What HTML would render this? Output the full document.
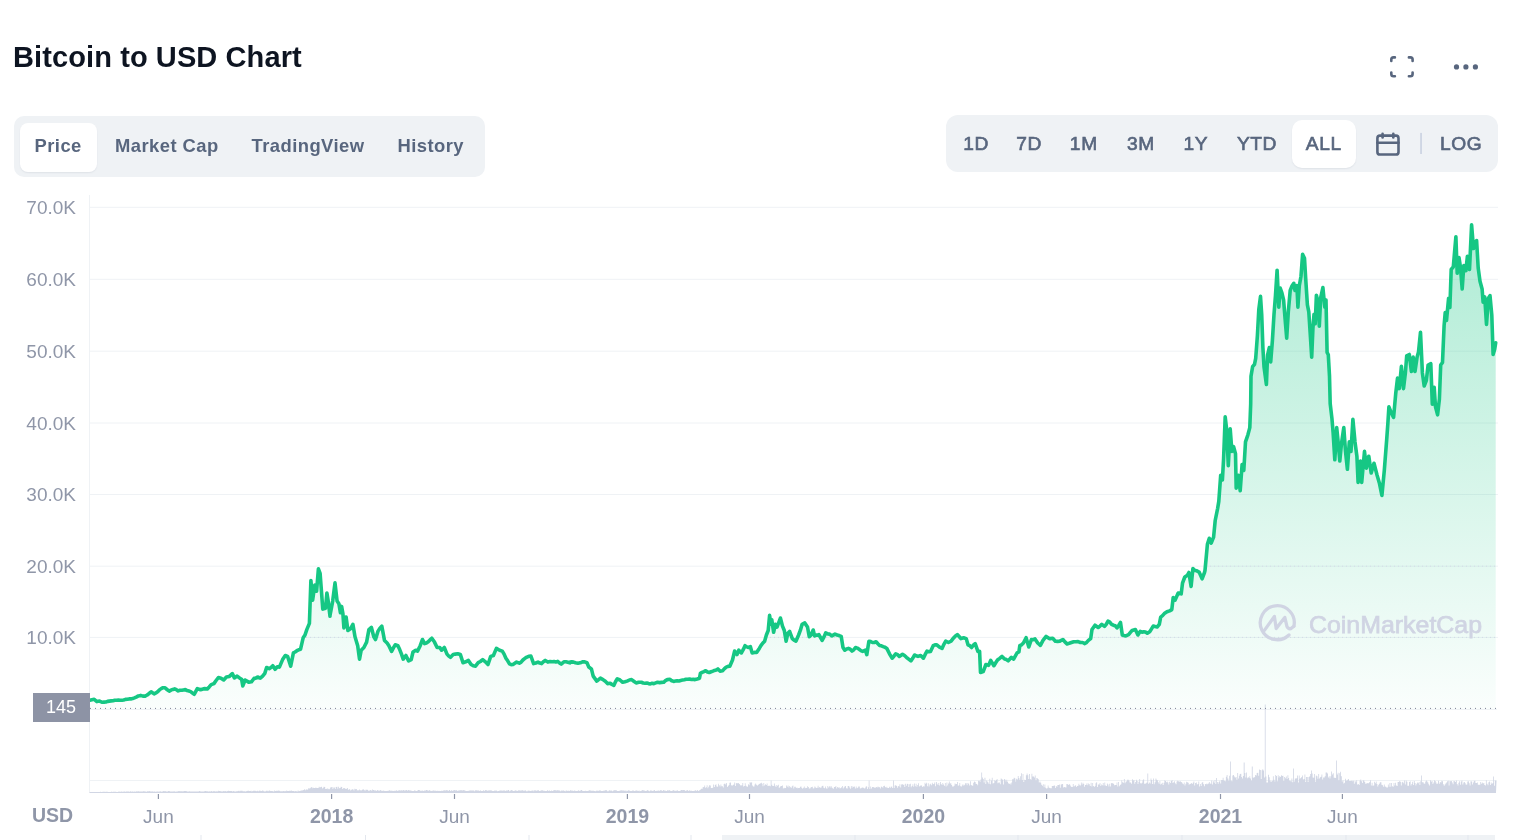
<!DOCTYPE html>
<html lang="en">
<head>
<meta charset="utf-8">
<title>Bitcoin to USD Chart</title>
<style>
  html, body { margin: 0; padding: 0; background: #fff; }
  body { width: 1520px; height: 840px; position: relative; overflow: hidden;
         font-family: "Liberation Sans", Arial, sans-serif; color: #58667e; }
  .abs { position: absolute; }
  h2 { position: absolute; left: 13px; top: 42.5px; margin: 0; font-size: 29px; line-height: 29px;
       font-weight: 700; color: #0d1421; letter-spacing: 0.1px; white-space: nowrap; }
  .grp { position: absolute; background: #eff2f5; }
  .pill { position: absolute; background: #fff; box-shadow: 0 1px 1.5px rgba(88,102,126,0.10); }
  .tab { position: absolute; font-weight: 700; font-size: 18.4px; letter-spacing: 0.45px; line-height: 20px; color: #58667e; white-space: nowrap; }
  .rt  { position: absolute; font-weight: 400; font-size: 19.2px; line-height: 20px; color: #58667e; -webkit-text-stroke: 0.65px #58667e; letter-spacing: 0.6px; white-space: nowrap; transform: translateX(-50%); }
  svg { position: absolute; left: 0; top: 0; }
  .yl text { font-size: 19px; fill: #8f96a8; text-anchor: end; font-family: "Liberation Sans", Arial, sans-serif; }
  .xl text { font-size: 19px; fill: #8f96a8; text-anchor: middle; font-family: "Liberation Sans", Arial, sans-serif; }
  .xl text.b { font-weight: 700; font-size: 19.5px; }
</style>
</head>
<body>
  <h2>Bitcoin to USD Chart</h2>

  <!-- top-right icons -->
  <svg width="1520" height="100" viewBox="0 0 1520 100" style="top:0;left:0">
    <g fill="none" stroke="#58667e" stroke-width="2.6" stroke-linecap="round" stroke-linejoin="round">
      <path d="M1391.3,61 V59.6 Q1391.3,57.4 1393.5,57.4 H1394.9"/>
      <path d="M1408.9,57.4 H1410.4 Q1412.6,57.4 1412.6,59.6 V61"/>
      <path d="M1391.3,72.6 V74 Q1391.3,76.2 1393.5,76.2 H1394.9"/>
      <path d="M1408.9,76.2 H1410.4 Q1412.6,76.2 1412.6,74 V72.6"/>
    </g>
    <g fill="#58667e">
      <circle cx="1456.5" cy="66.9" r="2.6"/>
      <circle cx="1465.9" cy="66.9" r="2.6"/>
      <circle cx="1475.4" cy="66.9" r="2.6"/>
    </g>
  </svg>

  <!-- left tab group -->
  <div class="grp" style="left:14px;top:116px;width:471px;height:61px;border-radius:10px;"></div>
  <div class="pill" style="left:20px;top:123px;width:77px;height:49px;border-radius:8px;"></div>
  <div class="tab" style="left:34.5px;top:136.2px;">Price</div>
  <div class="tab" style="left:115px;top:136.2px;">Market Cap</div>
  <div class="tab" style="left:251.5px;top:136.2px;">TradingView</div>
  <div class="tab" style="left:397.5px;top:136.2px;">History</div>

  <!-- right range group -->
  <div class="grp" style="left:946px;top:115px;width:552px;height:57px;border-radius:12px;"></div>
  <div class="pill" style="left:1292px;top:120px;width:64px;height:48px;border-radius:10px;"></div>
  <div class="rt" style="left:976.2px;top:134.2px;">1D</div>
  <div class="rt" style="left:1029.1px;top:134.2px;">7D</div>
  <div class="rt" style="left:1083.8px;top:134.2px;">1M</div>
  <div class="rt" style="left:1141px;top:134.2px;">3M</div>
  <div class="rt" style="left:1195.9px;top:134.2px;">1Y</div>
  <div class="rt" style="left:1257px;top:134.2px;">YTD</div>
  <div class="rt" style="left:1323.8px;top:134.2px;">ALL</div>
  <div class="rt" style="left:1461.2px;top:134.2px;">LOG</div>
  <svg width="1520" height="200" viewBox="0 0 1520 200" style="top:0;left:0">
    <g fill="none" stroke="#58667e" stroke-width="2.6" stroke-linecap="round" stroke-linejoin="round">
      <rect x="1377.4" y="135.6" width="21.1" height="18.9" rx="2.6"/>
      <line x1="1377.4" y1="142.7" x2="1398.5" y2="142.7"/>
      <line x1="1382.6" y1="133.7" x2="1382.6" y2="137.4"/>
      <line x1="1393.3" y1="133.7" x2="1393.3" y2="137.4"/>
    </g>
    <rect x="1420.1" y="132.9" width="1.9" height="21.1" fill="#cfd6e4"/>
  </svg>

  <!-- chart -->
  <svg width="1520" height="840" viewBox="0 0 1520 840">
    <defs>
      <linearGradient id="gf" x1="0" y1="207" x2="0" y2="709" gradientUnits="userSpaceOnUse">
        <stop offset="0" stop-color="#16c784" stop-opacity="0.36"/>
        <stop offset="1" stop-color="#16c784" stop-opacity="0.02"/>
      </linearGradient>
    </defs>
    <g stroke="#eff2f5" stroke-width="1"><line x1="90" x2="1498" y1="207.3" y2="207.3"/><line x1="90" x2="1498" y1="279.3" y2="279.3"/><line x1="90" x2="1498" y1="351.2" y2="351.2"/><line x1="90" x2="1498" y1="423" y2="423"/><line x1="90" x2="1498" y1="494.5" y2="494.5"/><line x1="90" x2="1498" y1="566.2" y2="566.2"/><line x1="90" x2="1498" y1="637.4" y2="637.4"/></g>
    <line x1="89.5" x2="89.5" y1="195" y2="792" stroke="#eff2f5" stroke-width="1"/>
    <line x1="90" x2="1497" y1="780.5" y2="780.5" stroke="#eff2f5" stroke-width="1"/>
    <line x1="90" x2="1497" y1="709.5" y2="709.5" stroke="#eff2f5" stroke-width="1"/>
    <path d="M89.5,792.5 L89.5,792 L90.3,792 L90.3,792.1 L91.1,792.1 L91.1,791.9 L91.9,791.9 L91.9,792.1 L92.7,792.1 L92.7,791.9 L93.6,791.9 L93.6,792 L94.4,792 L94.4,792.1 L95.2,792.1 L95.2,791.9 L96,791.9 L96,792.1 L96.8,792.1 L96.8,791.9 L97.6,791.9 L97.6,792.1 L98.4,792.1 L98.4,792 L99.2,792 L99.2,791.9 L100,791.9 L100,791.8 L100.8,791.8 L100.8,792 L101.7,792 L101.7,792 L102.5,792 L102.5,791.8 L103.3,791.8 L103.3,791.7 L104.1,791.7 L104.1,791.8 L104.9,791.8 L104.9,791.9 L105.7,791.9 L105.7,791.6 L106.5,791.6 L106.5,792 L107.3,792 L107.3,791.7 L108.1,791.7 L108.1,791.9 L108.9,791.9 L108.9,791.9 L109.8,791.9 L109.8,791.9 L110.6,791.9 L110.6,791.9 L111.4,791.9 L111.4,791.6 L112.2,791.6 L112.2,791.9 L113,791.9 L113,791.7 L113.8,791.7 L113.8,791.7 L114.6,791.7 L114.6,791.8 L115.4,791.8 L115.4,791.7 L116.2,791.7 L116.2,791.9 L117,791.9 L117,791.9 L117.9,791.9 L117.9,791.8 L118.7,791.8 L118.7,791.6 L119.5,791.6 L119.5,791.7 L120.3,791.7 L120.3,791.8 L121.1,791.8 L121.1,791.6 L121.9,791.6 L121.9,791.7 L122.7,791.7 L122.7,791.7 L123.5,791.7 L123.5,791.5 L124.3,791.5 L124.3,791.5 L125.1,791.5 L125.1,791.7 L126,791.7 L126,791.6 L126.8,791.6 L126.8,791.6 L127.6,791.6 L127.6,791.4 L128.4,791.4 L128.4,791.4 L129.2,791.4 L129.2,791.7 L130,791.7 L130,791.3 L130.8,791.3 L130.8,791.8 L131.6,791.8 L131.6,791.6 L132.4,791.6 L132.4,791.4 L133.2,791.4 L133.2,791.7 L134.1,791.7 L134.1,791.5 L134.9,791.5 L134.9,791.8 L135.7,791.8 L135.7,791.4 L136.5,791.4 L136.5,791.3 L137.3,791.3 L137.3,791.4 L138.1,791.4 L138.1,791.3 L138.9,791.3 L138.9,791.6 L139.7,791.6 L139.7,791.4 L140.5,791.4 L140.5,791.4 L141.3,791.4 L141.3,791.4 L142.2,791.4 L142.2,791.5 L143,791.5 L143,791.3 L143.8,791.3 L143.8,791.2 L144.6,791.2 L144.6,791.5 L145.4,791.5 L145.4,791.4 L146.2,791.4 L146.2,791.7 L147,791.7 L147,791.3 L147.8,791.3 L147.8,791.4 L148.6,791.4 L148.6,791.1 L149.4,791.1 L149.4,791.2 L150.3,791.2 L150.3,791.6 L151.1,791.6 L151.1,791.5 L151.9,791.5 L151.9,791.3 L152.7,791.3 L152.7,791.7 L153.5,791.7 L153.5,791.5 L154.3,791.5 L154.3,791.6 L155.1,791.6 L155.1,791.7 L155.9,791.7 L155.9,791.7 L156.7,791.7 L156.7,791.2 L157.5,791.2 L157.5,791.7 L158.4,791.7 L158.4,791.6 L159.2,791.6 L159.2,791.5 L160,791.5 L160,791.2 L160.8,791.2 L160.8,791.7 L161.6,791.7 L161.6,791.4 L162.4,791.4 L162.4,791.4 L163.2,791.4 L163.2,791.1 L164,791.1 L164,791.2 L164.8,791.2 L164.8,791.1 L165.6,791.1 L165.6,791.5 L166.5,791.5 L166.5,791.4 L167.3,791.4 L167.3,791.5 L168.1,791.5 L168.1,791.1 L168.9,791.1 L168.9,791.1 L169.7,791.1 L169.7,791.6 L170.5,791.6 L170.5,791.6 L171.3,791.6 L171.3,791.6 L172.1,791.6 L172.1,791.5 L172.9,791.5 L172.9,791.4 L173.7,791.4 L173.7,791.3 L174.6,791.3 L174.6,791.5 L175.4,791.5 L175.4,791.7 L176.2,791.7 L176.2,791.4 L177,791.4 L177,791.4 L177.8,791.4 L177.8,791.3 L178.6,791.3 L178.6,791 L179.4,791 L179.4,791.2 L180.2,791.2 L180.2,791.3 L181,791.3 L181,791.3 L181.8,791.3 L181.8,791.2 L182.7,791.2 L182.7,791.6 L183.5,791.6 L183.5,791 L184.3,791 L184.3,791.1 L185.1,791.1 L185.1,791.1 L185.9,791.1 L185.9,791.1 L186.7,791.1 L186.7,791.4 L187.5,791.4 L187.5,791.4 L188.3,791.4 L188.3,791.6 L189.1,791.6 L189.1,791.2 L189.9,791.2 L189.9,791.6 L190.8,791.6 L190.8,791.6 L191.6,791.6 L191.6,791.5 L192.4,791.5 L192.4,791.5 L193.2,791.5 L193.2,791.4 L194,791.4 L194,791.6 L194.8,791.6 L194.8,791.6 L195.6,791.6 L195.6,791.5 L196.4,791.5 L196.4,791.6 L197.2,791.6 L197.2,791.4 L198,791.4 L198,791.6 L198.9,791.6 L198.9,791 L199.7,791 L199.7,791.2 L200.5,791.2 L200.5,791.5 L201.3,791.5 L201.3,791.4 L202.1,791.4 L202.1,791.4 L202.9,791.4 L202.9,791.4 L203.7,791.4 L203.7,791.5 L204.5,791.5 L204.5,791 L205.3,791 L205.3,790.9 L206.1,790.9 L206.1,791.3 L207,791.3 L207,791.3 L207.8,791.3 L207.8,791.5 L208.6,791.5 L208.6,791.5 L209.4,791.5 L209.4,791.3 L210.2,791.3 L210.2,791.4 L211,791.4 L211,791 L211.8,791 L211.8,791.5 L212.6,791.5 L212.6,791.6 L213.4,791.6 L213.4,790.9 L214.2,790.9 L214.2,791.2 L215.1,791.2 L215.1,791.5 L215.9,791.5 L215.9,791.2 L216.7,791.2 L216.7,791.6 L217.5,791.6 L217.5,791.2 L218.3,791.2 L218.3,790.8 L219.1,790.8 L219.1,790.9 L219.9,790.9 L219.9,791 L220.7,791 L220.7,791.4 L221.5,791.4 L221.5,791.3 L222.3,791.3 L222.3,791.4 L223.2,791.4 L223.2,791 L224,791 L224,791.2 L224.8,791.2 L224.8,791 L225.6,791 L225.6,791.3 L226.4,791.3 L226.4,791.4 L227.2,791.4 L227.2,790.9 L228,790.9 L228,790.8 L228.8,790.8 L228.8,790.9 L229.6,790.9 L229.6,790.9 L230.4,790.9 L230.4,790.9 L231.3,790.9 L231.3,791 L232.1,791 L232.1,791.4 L232.9,791.4 L232.9,791.1 L233.7,791.1 L233.7,791.3 L234.5,791.3 L234.5,791.5 L235.3,791.5 L235.3,791.5 L236.1,791.5 L236.1,791.3 L236.9,791.3 L236.9,791.3 L237.7,791.3 L237.7,791 L238.5,791 L238.5,790.7 L239.4,790.7 L239.4,791.2 L240.2,791.2 L240.2,790.8 L241,790.8 L241,790.7 L241.8,790.7 L241.8,790.7 L242.6,790.7 L242.6,791.2 L243.4,791.2 L243.4,791.3 L244.2,791.3 L244.2,791.3 L245,791.3 L245,791.4 L245.8,791.4 L245.8,791.3 L246.6,791.3 L246.6,791 L247.5,791 L247.5,790.8 L248.3,790.8 L248.3,790.8 L249.1,790.8 L249.1,791.1 L249.9,791.1 L249.9,791 L250.7,791 L250.7,790.8 L251.5,790.8 L251.5,791.4 L252.3,791.4 L252.3,790.9 L253.1,790.9 L253.1,790.7 L253.9,790.7 L253.9,790.8 L254.7,790.8 L254.7,790.8 L255.6,790.8 L255.6,791.1 L256.4,791.1 L256.4,791.3 L257.2,791.3 L257.2,790.8 L258,790.8 L258,791.2 L258.8,791.2 L258.8,790.8 L259.6,790.8 L259.6,790.6 L260.4,790.6 L260.4,791.1 L261.2,791.1 L261.2,791.1 L262,791.1 L262,790.6 L262.8,790.6 L262.8,790.8 L263.7,790.8 L263.7,791.3 L264.5,791.3 L264.5,791.4 L265.3,791.4 L265.3,791.3 L266.1,791.3 L266.1,790.7 L266.9,790.7 L266.9,790.7 L267.7,790.7 L267.7,791.3 L268.5,791.3 L268.5,790.7 L269.3,790.7 L269.3,790.6 L270.1,790.6 L270.1,790.9 L270.9,790.9 L270.9,791.1 L271.8,791.1 L271.8,791 L272.6,791 L272.6,791.3 L273.4,791.3 L273.4,791.4 L274.2,791.4 L274.2,790.6 L275,790.6 L275,790.9 L275.8,790.9 L275.8,791 L276.6,791 L276.6,790.6 L277.4,790.6 L277.4,791 L278.2,791 L278.2,790.6 L279,790.6 L279,790.7 L279.9,790.7 L279.9,791.2 L280.7,791.2 L280.7,791.2 L281.5,791.2 L281.5,791.2 L282.3,791.2 L282.3,791.2 L283.1,791.2 L283.1,790.9 L283.9,790.9 L283.9,791.2 L284.7,791.2 L284.7,791 L285.5,791 L285.5,791.3 L286.3,791.3 L286.3,790.6 L287.1,790.6 L287.1,791.1 L288,791.1 L288,791 L288.8,791 L288.8,790.9 L289.6,790.9 L289.6,790.6 L290.4,790.6 L290.4,791 L291.2,791 L291.2,790.5 L292,790.5 L292,790.9 L292.8,790.9 L292.8,790.9 L293.6,790.9 L293.6,790.9 L294.4,790.9 L294.4,791.4 L295.2,791.4 L295.2,791 L296.1,791 L296.1,791.2 L296.9,791.2 L296.9,791.4 L297.7,791.4 L297.7,790.6 L298.5,790.6 L298.5,791.2 L299.3,791.2 L299.3,790.9 L300.1,790.9 L300.1,790.7 L300.9,790.7 L300.9,790.6 L301.7,790.6 L301.7,790.6 L302.5,790.6 L302.5,790.2 L303.3,790.2 L303.3,789.9 L304.2,789.9 L304.2,789.3 L305,789.3 L305,790.2 L305.8,790.2 L305.8,789.2 L306.6,789.2 L306.6,789.7 L307.4,789.7 L307.4,789.5 L308.2,789.5 L308.2,788.2 L309,788.2 L309,788.6 L309.8,788.6 L309.8,788.3 L310.6,788.3 L310.6,787.6 L311.4,787.6 L311.4,787 L312.3,787 L312.3,788.2 L313.1,788.2 L313.1,787.7 L313.9,787.7 L313.9,788 L314.7,788 L314.7,788 L315.5,788 L315.5,787.5 L316.3,787.5 L316.3,788.1 L317.1,788.1 L317.1,787.9 L317.9,787.9 L317.9,788.1 L318.7,788.1 L318.7,786.8 L319.5,786.8 L319.5,787.5 L320.4,787.5 L320.4,787 L321.2,787 L321.2,786.8 L322,786.8 L322,788.6 L322.8,788.6 L322.8,787.8 L323.6,787.8 L323.6,786.8 L324.4,786.8 L324.4,787.1 L325.2,787.1 L325.2,789 L326,789 L326,789 L326.8,789 L326.8,788.2 L327.6,788.2 L327.6,789.2 L328.5,789.2 L328.5,788.7 L329.3,788.7 L329.3,789.2 L330.1,789.2 L330.1,787.5 L330.9,787.5 L330.9,787.2 L331.7,787.2 L331.7,786.9 L332.5,786.9 L332.5,788.9 L333.3,788.9 L333.3,787.4 L334.1,787.4 L334.1,787.6 L334.9,787.6 L334.9,789 L335.7,789 L335.7,787 L336.6,787 L336.6,786.7 L337.4,786.7 L337.4,788.8 L338.2,788.8 L338.2,786.8 L339,786.8 L339,788.3 L339.8,788.3 L339.8,788 L340.6,788 L340.6,786.7 L341.4,786.7 L341.4,787.1 L342.2,787.1 L342.2,788.9 L343,788.9 L343,788.2 L343.8,788.2 L343.8,788 L344.7,788 L344.7,788.4 L345.5,788.4 L345.5,788.9 L346.3,788.9 L346.3,788.8 L347.1,788.8 L347.1,788.1 L347.9,788.1 L347.9,789.9 L348.7,789.9 L348.7,789 L349.5,789 L349.5,789.5 L350.3,789.5 L350.3,790.4 L351.1,790.4 L351.1,789.8 L351.9,789.8 L351.9,789.3 L352.8,789.3 L352.8,789.6 L353.6,789.6 L353.6,790.4 L354.4,790.4 L354.4,788.8 L355.2,788.8 L355.2,789.2 L356,789.2 L356,788.9 L356.8,788.9 L356.8,790.4 L357.6,790.4 L357.6,790.1 L358.4,790.1 L358.4,790.5 L359.2,790.5 L359.2,789.4 L360,789.4 L360,790.2 L360.9,790.2 L360.9,790.4 L361.7,790.4 L361.7,790 L362.5,790 L362.5,789.3 L363.3,789.3 L363.3,789.5 L364.1,789.5 L364.1,790.3 L364.9,790.3 L364.9,790.5 L365.7,790.5 L365.7,789.4 L366.5,789.4 L366.5,789.9 L367.3,789.9 L367.3,789.8 L368.1,789.8 L368.1,790.7 L369,790.7 L369,790.8 L369.8,790.8 L369.8,789.9 L370.6,789.9 L370.6,790.3 L371.4,790.3 L371.4,790.8 L372.2,790.8 L372.2,789.6 L373,789.6 L373,790.1 L373.8,790.1 L373.8,789.9 L374.6,789.9 L374.6,790.9 L375.4,790.9 L375.4,789.9 L376.2,789.9 L376.2,790.9 L377.1,790.9 L377.1,789.9 L377.9,789.9 L377.9,790.5 L378.7,790.5 L378.7,790.7 L379.5,790.7 L379.5,790.4 L380.3,790.4 L380.3,790 L381.1,790 L381.1,790.8 L381.9,790.8 L381.9,790.9 L382.7,790.9 L382.7,790.5 L383.5,790.5 L383.5,790.8 L384.3,790.8 L384.3,791 L385.2,791 L385.2,790.9 L386,790.9 L386,791 L386.8,791 L386.8,790.9 L387.6,790.9 L387.6,790.7 L388.4,790.7 L388.4,790.7 L389.2,790.7 L389.2,790.2 L390,790.2 L390,790.8 L390.8,790.8 L390.8,790.5 L391.6,790.5 L391.6,790.9 L392.4,790.9 L392.4,790.7 L393.3,790.7 L393.3,791.1 L394.1,791.1 L394.1,790.8 L394.9,790.8 L394.9,791.1 L395.7,791.1 L395.7,790.2 L396.5,790.2 L396.5,790.5 L397.3,790.5 L397.3,790.9 L398.1,790.9 L398.1,790.5 L398.9,790.5 L398.9,790 L399.7,790 L399.7,791 L400.5,791 L400.5,790.1 L401.4,790.1 L401.4,790.6 L402.2,790.6 L402.2,790.5 L403,790.5 L403,790.1 L403.8,790.1 L403.8,790.6 L404.6,790.6 L404.6,790.5 L405.4,790.5 L405.4,790.3 L406.2,790.3 L406.2,789.9 L407,789.9 L407,790.7 L407.8,790.7 L407.8,790.1 L408.6,790.1 L408.6,790.3 L409.5,790.3 L409.5,790.4 L410.3,790.4 L410.3,790.6 L411.1,790.6 L411.1,790.7 L411.9,790.7 L411.9,791.1 L412.7,791.1 L412.7,791 L413.5,791 L413.5,791 L414.3,791 L414.3,790.2 L415.1,790.2 L415.1,790.8 L415.9,790.8 L415.9,790.9 L416.7,790.9 L416.7,791 L417.6,791 L417.6,790.1 L418.4,790.1 L418.4,790.1 L419.2,790.1 L419.2,790.3 L420,790.3 L420,790.8 L420.8,790.8 L420.8,790.8 L421.6,790.8 L421.6,790.8 L422.4,790.8 L422.4,790.6 L423.2,790.6 L423.2,790.9 L424,790.9 L424,790.6 L424.8,790.6 L424.8,790.8 L425.7,790.8 L425.7,790 L426.5,790 L426.5,790 L427.3,790 L427.3,790.5 L428.1,790.5 L428.1,790.8 L428.9,790.8 L428.9,790 L429.7,790 L429.7,790.8 L430.5,790.8 L430.5,790.7 L431.3,790.7 L431.3,791.1 L432.1,791.1 L432.1,790.7 L432.9,790.7 L432.9,790.6 L433.8,790.6 L433.8,790.5 L434.6,790.5 L434.6,790.9 L435.4,790.9 L435.4,790.5 L436.2,790.5 L436.2,791.1 L437,791.1 L437,790.8 L437.8,790.8 L437.8,791 L438.6,791 L438.6,790.7 L439.4,790.7 L439.4,791.1 L440.2,791.1 L440.2,791.1 L441,791.1 L441,790.8 L441.9,790.8 L441.9,790.9 L442.7,790.9 L442.7,790.5 L443.5,790.5 L443.5,790.5 L444.3,790.5 L444.3,790.3 L445.1,790.3 L445.1,790.4 L445.9,790.4 L445.9,790.3 L446.7,790.3 L446.7,790.1 L447.5,790.1 L447.5,790.7 L448.3,790.7 L448.3,790.8 L449.1,790.8 L449.1,790 L450,790 L450,791 L450.8,791 L450.8,790.3 L451.6,790.3 L451.6,790.4 L452.4,790.4 L452.4,791.1 L453.2,791.1 L453.2,790.2 L454,790.2 L454,790.1 L454.8,790.1 L454.8,790.4 L455.6,790.4 L455.6,790.3 L456.4,790.3 L456.4,790.2 L457.2,790.2 L457.2,791 L458.1,791 L458.1,790.5 L458.9,790.5 L458.9,790.6 L459.7,790.6 L459.7,790.2 L460.5,790.2 L460.5,790.2 L461.3,790.2 L461.3,790.2 L462.1,790.2 L462.1,790.5 L462.9,790.5 L462.9,790.1 L463.7,790.1 L463.7,790.4 L464.5,790.4 L464.5,790.3 L465.3,790.3 L465.3,790.9 L466.2,790.9 L466.2,791.1 L467,791.1 L467,791 L467.8,791 L467.8,790.7 L468.6,790.7 L468.6,791 L469.4,791 L469.4,790.2 L470.2,790.2 L470.2,790.5 L471,790.5 L471,790.4 L471.8,790.4 L471.8,790.4 L472.6,790.4 L472.6,790.4 L473.4,790.4 L473.4,790.6 L474.3,790.6 L474.3,791.2 L475.1,791.2 L475.1,790.2 L475.9,790.2 L475.9,790.3 L476.7,790.3 L476.7,790.6 L477.5,790.6 L477.5,790.5 L478.3,790.5 L478.3,790.4 L479.1,790.4 L479.1,791.1 L479.9,791.1 L479.9,790.3 L480.7,790.3 L480.7,790.9 L481.5,790.9 L481.5,791.1 L482.4,791.1 L482.4,790.9 L483.2,790.9 L483.2,790.3 L484,790.3 L484,790.9 L484.8,790.9 L484.8,790.3 L485.6,790.3 L485.6,790 L486.4,790 L486.4,790.6 L487.2,790.6 L487.2,790.7 L488,790.7 L488,790.6 L488.8,790.6 L488.8,790.4 L489.6,790.4 L489.6,790.3 L490.5,790.3 L490.5,790.5 L491.3,790.5 L491.3,790.4 L492.1,790.4 L492.1,791.1 L492.9,791.1 L492.9,791 L493.7,791 L493.7,790.9 L494.5,790.9 L494.5,790.3 L495.3,790.3 L495.3,790.8 L496.1,790.8 L496.1,790.5 L496.9,790.5 L496.9,791.2 L497.7,791.2 L497.7,791.1 L498.6,791.1 L498.6,790.9 L499.4,790.9 L499.4,790.4 L500.2,790.4 L500.2,790.4 L501,790.4 L501,790.4 L501.8,790.4 L501.8,790.8 L502.6,790.8 L502.6,790.6 L503.4,790.6 L503.4,790.6 L504.2,790.6 L504.2,790.6 L505,790.6 L505,791 L505.8,791 L505.8,790.2 L506.7,790.2 L506.7,790.9 L507.5,790.9 L507.5,790.1 L508.3,790.1 L508.3,790.1 L509.1,790.1 L509.1,791.2 L509.9,791.2 L509.9,790.7 L510.7,790.7 L510.7,790.2 L511.5,790.2 L511.5,790.1 L512.3,790.1 L512.3,790.7 L513.1,790.7 L513.1,790.9 L513.9,790.9 L513.9,790.9 L514.8,790.9 L514.8,790.1 L515.6,790.1 L515.6,790.9 L516.4,790.9 L516.4,790.5 L517.2,790.5 L517.2,791 L518,791 L518,790.6 L518.8,790.6 L518.8,790.1 L519.6,790.1 L519.6,791 L520.4,791 L520.4,790.3 L521.2,790.3 L521.2,790.6 L522,790.6 L522,790.2 L522.9,790.2 L522.9,790.4 L523.7,790.4 L523.7,790.9 L524.5,790.9 L524.5,790.2 L525.3,790.2 L525.3,790.6 L526.1,790.6 L526.1,791.2 L526.9,791.2 L526.9,791.2 L527.7,791.2 L527.7,790.6 L528.5,790.6 L528.5,790.7 L529.3,790.7 L529.3,790.8 L530.1,790.8 L530.1,791 L530.9,791 L530.9,790.8 L531.8,790.8 L531.8,790.8 L532.6,790.8 L532.6,790.2 L533.4,790.2 L533.4,791.2 L534.2,791.2 L534.2,790.3 L535,790.3 L535,790.2 L535.8,790.2 L535.8,791.1 L536.6,791.1 L536.6,790.2 L537.4,790.2 L537.4,790.4 L538.2,790.4 L538.2,790.2 L539,790.2 L539,790.9 L539.9,790.9 L539.9,790.8 L540.7,790.8 L540.7,790.8 L541.5,790.8 L541.5,790.1 L542.3,790.1 L542.3,790.5 L543.1,790.5 L543.1,790.8 L543.9,790.8 L543.9,790.7 L544.7,790.7 L544.7,790.9 L545.5,790.9 L545.5,791.1 L546.3,791.1 L546.3,791.1 L547.1,791.1 L547.1,790.3 L548,790.3 L548,790.9 L548.8,790.9 L548.8,790.2 L549.6,790.2 L549.6,790.9 L550.4,790.9 L550.4,790.9 L551.2,790.9 L551.2,790.6 L552,790.6 L552,791 L552.8,791 L552.8,790.8 L553.6,790.8 L553.6,790.1 L554.4,790.1 L554.4,790.2 L555.2,790.2 L555.2,790.3 L556.1,790.3 L556.1,790.5 L556.9,790.5 L556.9,790.2 L557.7,790.2 L557.7,790.2 L558.5,790.2 L558.5,790.6 L559.3,790.6 L559.3,790.4 L560.1,790.4 L560.1,791.2 L560.9,791.2 L560.9,790.4 L561.7,790.4 L561.7,790.7 L562.5,790.7 L562.5,790.4 L563.3,790.4 L563.3,790.5 L564.2,790.5 L564.2,790.9 L565,790.9 L565,791.2 L565.8,791.2 L565.8,790.2 L566.6,790.2 L566.6,791.1 L567.4,791.1 L567.4,790.7 L568.2,790.7 L568.2,790.8 L569,790.8 L569,790.9 L569.8,790.9 L569.8,790.4 L570.6,790.4 L570.6,790.1 L571.4,790.1 L571.4,790.9 L572.3,790.9 L572.3,790.5 L573.1,790.5 L573.1,790.9 L573.9,790.9 L573.9,790.6 L574.7,790.6 L574.7,790.8 L575.5,790.8 L575.5,791 L576.3,791 L576.3,791 L577.1,791 L577.1,791 L577.9,791 L577.9,790.2 L578.7,790.2 L578.7,790.7 L579.5,790.7 L579.5,791 L580.4,791 L580.4,790.2 L581.2,790.2 L581.2,790.1 L582,790.1 L582,790.7 L582.8,790.7 L582.8,791.1 L583.6,791.1 L583.6,791 L584.4,791 L584.4,791.1 L585.2,791.1 L585.2,790.8 L586,790.8 L586,791.1 L586.8,791.1 L586.8,791 L587.6,791 L587.6,790.9 L588.5,790.9 L588.5,790.6 L589.3,790.6 L589.3,790.3 L590.1,790.3 L590.1,790.4 L590.9,790.4 L590.9,790.8 L591.7,790.8 L591.7,790.8 L592.5,790.8 L592.5,790.7 L593.3,790.7 L593.3,790.8 L594.1,790.8 L594.1,790.9 L594.9,790.9 L594.9,791.2 L595.7,791.2 L595.7,790.9 L596.6,790.9 L596.6,790.2 L597.4,790.2 L597.4,791.1 L598.2,791.1 L598.2,790.7 L599,790.7 L599,790.5 L599.8,790.5 L599.8,790.3 L600.6,790.3 L600.6,791 L601.4,791 L601.4,790.9 L602.2,790.9 L602.2,791 L603,791 L603,790.8 L603.8,790.8 L603.8,790.7 L604.7,790.7 L604.7,790.2 L605.5,790.2 L605.5,790.3 L606.3,790.3 L606.3,790.3 L607.1,790.3 L607.1,791.2 L607.9,791.2 L607.9,791.2 L608.7,791.2 L608.7,790.5 L609.5,790.5 L609.5,790.3 L610.3,790.3 L610.3,790.7 L611.1,790.7 L611.1,790.6 L611.9,790.6 L611.9,791.2 L612.8,791.2 L612.8,790.8 L613.6,790.8 L613.6,790.2 L614.4,790.2 L614.4,790.3 L615.2,790.3 L615.2,790.3 L616,790.3 L616,790.2 L616.8,790.2 L616.8,791 L617.6,791 L617.6,791.1 L618.4,791.1 L618.4,791.1 L619.2,791.1 L619.2,790.7 L620,790.7 L620,790.5 L620.9,790.5 L620.9,790.2 L621.7,790.2 L621.7,790.5 L622.5,790.5 L622.5,790.5 L623.3,790.5 L623.3,790.4 L624.1,790.4 L624.1,790.7 L624.9,790.7 L624.9,790.6 L625.7,790.6 L625.7,791.2 L626.5,791.2 L626.5,790.4 L627.3,790.4 L627.3,791 L628.1,791 L628.1,790.2 L629,790.2 L629,790.5 L629.8,790.5 L629.8,790.9 L630.6,790.9 L630.6,791.1 L631.4,791.1 L631.4,790.9 L632.2,790.9 L632.2,790.5 L633,790.5 L633,790.4 L633.8,790.4 L633.8,791.1 L634.6,791.1 L634.6,791.1 L635.4,791.1 L635.4,790.6 L636.2,790.6 L636.2,790.6 L637.1,790.6 L637.1,790.8 L637.9,790.8 L637.9,791 L638.7,791 L638.7,790.5 L639.5,790.5 L639.5,791.2 L640.3,791.2 L640.3,790.9 L641.1,790.9 L641.1,790.7 L641.9,790.7 L641.9,790.1 L642.7,790.1 L642.7,790.5 L643.5,790.5 L643.5,790.2 L644.3,790.2 L644.3,790.7 L645.2,790.7 L645.2,790.9 L646,790.9 L646,790.9 L646.8,790.9 L646.8,790.1 L647.6,790.1 L647.6,790.4 L648.4,790.4 L648.4,790.8 L649.2,790.8 L649.2,791.2 L650,791.2 L650,790.6 L650.8,790.6 L650.8,790.4 L651.6,790.4 L651.6,790.7 L652.4,790.7 L652.4,790.9 L653.3,790.9 L653.3,790.4 L654.1,790.4 L654.1,790.1 L654.9,790.1 L654.9,790.9 L655.7,790.9 L655.7,791.1 L656.5,791.1 L656.5,790.8 L657.3,790.8 L657.3,790.7 L658.1,790.7 L658.1,790.4 L658.9,790.4 L658.9,790.9 L659.7,790.9 L659.7,790.3 L660.5,790.3 L660.5,790.3 L661.4,790.3 L661.4,790.6 L662.2,790.6 L662.2,790.9 L663,790.9 L663,790.1 L663.8,790.1 L663.8,790.8 L664.6,790.8 L664.6,790.2 L665.4,790.2 L665.4,790.9 L666.2,790.9 L666.2,790.9 L667,790.9 L667,790.3 L667.8,790.3 L667.8,790.8 L668.6,790.8 L668.6,790.1 L669.5,790.1 L669.5,790.6 L670.3,790.6 L670.3,790.9 L671.1,790.9 L671.1,790.9 L671.9,790.9 L671.9,790.7 L672.7,790.7 L672.7,790.4 L673.5,790.4 L673.5,790 L674.3,790 L674.3,791 L675.1,791 L675.1,790.7 L675.9,790.7 L675.9,790.9 L676.7,790.9 L676.7,790 L677.6,790 L677.6,791 L678.4,791 L678.4,791.1 L679.2,791.1 L679.2,791.1 L680,791.1 L680,790.7 L680.8,790.7 L680.8,790.1 L681.6,790.1 L681.6,790.1 L682.4,790.1 L682.4,790.3 L683.2,790.3 L683.2,790 L684,790 L684,790 L684.8,790 L684.8,790.7 L685.7,790.7 L685.7,790.9 L686.5,790.9 L686.5,790 L687.3,790 L687.3,790.2 L688.1,790.2 L688.1,791.1 L688.9,791.1 L688.9,790.3 L689.7,790.3 L689.7,790.7 L690.5,790.7 L690.5,790.7 L691.3,790.7 L691.3,790.7 L692.1,790.7 L692.1,790.9 L692.9,790.9 L692.9,791.1 L693.8,791.1 L693.8,790.8 L694.6,790.8 L694.6,790.7 L695.4,790.7 L695.4,790 L696.2,790 L696.2,791 L697,791 L697,790 L697.8,790 L697.8,790.9 L698.6,790.9 L698.6,790.7 L699.4,790.7 L699.4,790.1 L700.2,790.1 L700.2,789.6 L701,789.6 L701,788.8 L701.9,788.8 L701.9,788.7 L702.7,788.7 L702.7,787 L703.5,787 L703.5,787.3 L704.3,787.3 L704.3,785.4 L705.1,785.4 L705.1,787.8 L705.9,787.8 L705.9,787.2 L706.7,787.2 L706.7,785.2 L707.5,785.2 L707.5,788.2 L708.3,788.2 L708.3,786.8 L709.1,786.8 L709.1,785.3 L710,785.3 L710,785.4 L710.8,785.4 L710.8,788 L711.6,788 L711.6,788 L712.4,788 L712.4,787.8 L713.2,787.8 L713.2,784.5 L714,784.5 L714,787 L714.8,787 L714.8,785 L715.6,785 L715.6,784.3 L716.4,784.3 L716.4,786.5 L717.2,786.5 L717.2,786.7 L718.1,786.7 L718.1,783.8 L718.9,783.8 L718.9,785.2 L719.7,785.2 L719.7,786.6 L720.5,786.6 L720.5,784.6 L721.3,784.6 L721.3,786.2 L722.1,786.2 L722.1,786.3 L722.9,786.3 L722.9,787.5 L723.7,787.5 L723.7,784.1 L724.5,784.1 L724.5,783.4 L725.3,783.4 L725.3,784.5 L726.2,784.5 L726.2,783.1 L727,783.1 L727,787.1 L727.8,787.1 L727.8,786.1 L728.6,786.1 L728.6,785 L729.4,785 L729.4,782.7 L730.2,782.7 L730.2,782.6 L731,782.6 L731,785.2 L731.8,785.2 L731.8,785.8 L732.6,785.8 L732.6,784.9 L733.4,784.9 L733.4,784.5 L734.3,784.5 L734.3,782.4 L735.1,782.4 L735.1,786 L735.9,786 L735.9,783 L736.7,783 L736.7,783.4 L737.5,783.4 L737.5,783 L738.3,783 L738.3,783.2 L739.1,783.2 L739.1,784 L739.9,784 L739.9,785.3 L740.7,785.3 L740.7,785.4 L741.5,785.4 L741.5,785.2 L742.4,785.2 L742.4,783.1 L743.2,783.1 L743.2,786.5 L744,786.5 L744,786 L744.8,786 L744.8,783.3 L745.6,783.3 L745.6,785.7 L746.4,785.7 L746.4,786.6 L747.2,786.6 L747.2,786.7 L748,786.7 L748,784.2 L748.8,784.2 L748.8,785.3 L749.6,785.3 L749.6,782.2 L750.5,782.2 L750.5,782.7 L751.3,782.7 L751.3,782.2 L752.1,782.2 L752.1,785.6 L752.9,785.6 L752.9,786.5 L753.7,786.5 L753.7,786.4 L754.5,786.4 L754.5,784.5 L755.3,784.5 L755.3,783.5 L756.1,783.5 L756.1,784.8 L756.9,784.8 L756.9,785.8 L757.7,785.8 L757.7,784.9 L758.6,784.9 L758.6,783.9 L759.4,783.9 L759.4,783.7 L760.2,783.7 L760.2,783.3 L761,783.3 L761,782.8 L761.8,782.8 L761.8,783.7 L762.6,783.7 L762.6,786.3 L763.4,786.3 L763.4,782.9 L764.2,782.9 L764.2,785.5 L765,785.5 L765,784.2 L765.8,784.2 L765.8,785.1 L766.7,785.1 L766.7,783.4 L767.5,783.4 L767.5,785.9 L768.3,785.9 L768.3,785.7 L769.1,785.7 L769.1,785.7 L769.9,785.7 L769.9,786.3 L770.7,786.3 L770.7,780.5 L771.5,780.5 L771.5,784.7 L772.3,784.7 L772.3,786 L773.1,786 L773.1,785.9 L773.9,785.9 L773.9,783.6 L774.8,783.6 L774.8,785.8 L775.6,785.8 L775.6,787 L776.4,787 L776.4,785 L777.2,785 L777.2,785.8 L778,785.8 L778,784.8 L778.8,784.8 L778.8,788.1 L779.6,788.1 L779.6,787 L780.4,787 L780.4,785.9 L781.2,785.9 L781.2,785.9 L782,785.9 L782,785.6 L782.9,785.6 L782.9,788.5 L783.7,788.5 L783.7,787.7 L784.5,787.7 L784.5,788.3 L785.3,788.3 L785.3,788 L786.1,788 L786.1,785.5 L786.9,785.5 L786.9,786.8 L787.7,786.8 L787.7,785.6 L788.5,785.6 L788.5,787.5 L789.3,787.5 L789.3,785.9 L790.1,785.9 L790.1,787.2 L791,787.2 L791,787.8 L791.8,787.8 L791.8,786.2 L792.6,786.2 L792.6,785.6 L793.4,785.6 L793.4,788.4 L794.2,788.4 L794.2,786.8 L795,786.8 L795,786.7 L795.8,786.7 L795.8,788 L796.6,788 L796.6,787.5 L797.4,787.5 L797.4,788.3 L798.2,788.3 L798.2,788.1 L799.1,788.1 L799.1,787.9 L799.9,787.9 L799.9,786.8 L800.7,786.8 L800.7,786.6 L801.5,786.6 L801.5,788.1 L802.3,788.1 L802.3,788.7 L803.1,788.7 L803.1,787.7 L803.9,787.7 L803.9,786.6 L804.7,786.6 L804.7,788.2 L805.5,788.2 L805.5,787.7 L806.3,787.7 L806.3,788.1 L807.2,788.1 L807.2,786.2 L808,786.2 L808,787 L808.8,787 L808.8,788.6 L809.6,788.6 L809.6,788.4 L810.4,788.4 L810.4,787.5 L811.2,787.5 L811.2,787 L812,787 L812,786.7 L812.8,786.7 L812.8,788.5 L813.6,788.5 L813.6,788.3 L814.4,788.3 L814.4,786.6 L815.3,786.6 L815.3,787.5 L816.1,787.5 L816.1,787.9 L816.9,787.9 L816.9,787.8 L817.7,787.8 L817.7,785.8 L818.5,785.8 L818.5,787.8 L819.3,787.8 L819.3,787 L820.1,787 L820.1,787.7 L820.9,787.7 L820.9,787.5 L821.7,787.5 L821.7,786.1 L822.5,786.1 L822.5,785.7 L823.4,785.7 L823.4,787.7 L824.2,787.7 L824.2,788.2 L825,788.2 L825,786.5 L825.8,786.5 L825.8,788.2 L826.6,788.2 L826.6,788.8 L827.4,788.8 L827.4,786 L828.2,786 L828.2,787.5 L829,787.5 L829,786.3 L829.8,786.3 L829.8,787.6 L830.6,787.6 L830.6,786.1 L831.5,786.1 L831.5,787.4 L832.3,787.4 L832.3,788.3 L833.1,788.3 L833.1,788.8 L833.9,788.8 L833.9,787.1 L834.7,787.1 L834.7,786.9 L835.5,786.9 L835.5,786 L836.3,786 L836.3,788.6 L837.1,788.6 L837.1,786.9 L837.9,786.9 L837.9,787.7 L838.7,787.7 L838.7,787.3 L839.6,787.3 L839.6,788.4 L840.4,788.4 L840.4,788 L841.2,788 L841.2,787.3 L842,787.3 L842,786 L842.8,786 L842.8,788.6 L843.6,788.6 L843.6,787.4 L844.4,787.4 L844.4,786.4 L845.2,786.4 L845.2,785.9 L846,785.9 L846,788.3 L846.8,788.3 L846.8,788.5 L847.7,788.5 L847.7,786 L848.5,786 L848.5,785.9 L849.3,785.9 L849.3,787.4 L850.1,787.4 L850.1,788.8 L850.9,788.8 L850.9,786.1 L851.7,786.1 L851.7,787.7 L852.5,787.7 L852.5,786.2 L853.3,786.2 L853.3,787 L854.1,787 L854.1,786.4 L854.9,786.4 L854.9,788.5 L855.8,788.5 L855.8,786.5 L856.6,786.5 L856.6,788.3 L857.4,788.3 L857.4,787.7 L858.2,787.7 L858.2,786.4 L859,786.4 L859,786.4 L859.8,786.4 L859.8,788.4 L860.6,788.4 L860.6,788.3 L861.4,788.3 L861.4,787.8 L862.2,787.8 L862.2,787.4 L863,787.4 L863,787.8 L863.9,787.8 L863.9,788.6 L864.7,788.6 L864.7,788.2 L865.5,788.2 L865.5,786.8 L866.3,786.8 L866.3,786.3 L867.1,786.3 L867.1,788.9 L867.9,788.9 L867.9,787.3 L868.7,787.3 L868.7,780.5 L869.5,780.5 L869.5,788.9 L870.3,788.9 L870.3,786.5 L871.1,786.5 L871.1,788.6 L872,788.6 L872,787.1 L872.8,787.1 L872.8,787.2 L873.6,787.2 L873.6,786.9 L874.4,786.9 L874.4,787.9 L875.2,787.9 L875.2,787.5 L876,787.5 L876,786.9 L876.8,786.9 L876.8,787.4 L877.6,787.4 L877.6,786.6 L878.4,786.6 L878.4,787.3 L879.2,787.3 L879.2,787.2 L880.1,787.2 L880.1,788.6 L880.9,788.6 L880.9,786.6 L881.7,786.6 L881.7,787 L882.5,787 L882.5,787.8 L883.3,787.8 L883.3,785.9 L884.1,785.9 L884.1,785.8 L884.9,785.8 L884.9,786.9 L885.7,786.9 L885.7,787.8 L886.5,787.8 L886.5,786.8 L887.3,786.8 L887.3,788 L888.2,788 L888.2,787.9 L889,787.9 L889,786.8 L889.8,786.8 L889.8,788 L890.6,788 L890.6,786.7 L891.4,786.7 L891.4,786.4 L892.2,786.4 L892.2,788.1 L893,788.1 L893,780.5 L893.8,780.5 L893.8,787.9 L894.6,787.9 L894.6,785.4 L895.4,785.4 L895.4,785.2 L896.3,785.2 L896.3,786.1 L897.1,786.1 L897.1,787.8 L897.9,787.8 L897.9,786.1 L898.7,786.1 L898.7,786.5 L899.5,786.5 L899.5,784.3 L900.3,784.3 L900.3,787.4 L901.1,787.4 L901.1,784.5 L901.9,784.5 L901.9,783.9 L902.7,783.9 L902.7,784.9 L903.5,784.9 L903.5,784.6 L904.4,784.6 L904.4,787 L905.2,787 L905.2,783.8 L906,783.8 L906,785.7 L906.8,785.7 L906.8,783.8 L907.6,783.8 L907.6,783.9 L908.4,783.9 L908.4,787 L909.2,787 L909.2,784.3 L910,784.3 L910,783.7 L910.8,783.7 L910.8,787.3 L911.6,787.3 L911.6,786.1 L912.5,786.1 L912.5,784.3 L913.3,784.3 L913.3,786.8 L914.1,786.8 L914.1,783.6 L914.9,783.6 L914.9,786.2 L915.7,786.2 L915.7,783.8 L916.5,783.8 L916.5,786.7 L917.3,786.7 L917.3,785.1 L918.1,785.1 L918.1,783.2 L918.9,783.2 L918.9,786.4 L919.7,786.4 L919.7,786.1 L920.6,786.1 L920.6,784.9 L921.4,784.9 L921.4,785.8 L922.2,785.8 L922.2,787 L923,787 L923,786.3 L923.8,786.3 L923.8,786.4 L924.6,786.4 L924.6,782.7 L925.4,782.7 L925.4,783.9 L926.2,783.9 L926.2,782.8 L927,782.8 L927,786.2 L927.8,786.2 L927.8,783.3 L928.7,783.3 L928.7,786.4 L929.5,786.4 L929.5,784.4 L930.3,784.4 L930.3,783.8 L931.1,783.8 L931.1,785.2 L931.9,785.2 L931.9,782.7 L932.7,782.7 L932.7,784.2 L933.5,784.2 L933.5,784 L934.3,784 L934.3,782.5 L935.1,782.5 L935.1,786.3 L935.9,786.3 L935.9,782 L936.8,782 L936.8,783.7 L937.6,783.7 L937.6,784.9 L938.4,784.9 L938.4,782.9 L939.2,782.9 L939.2,785.5 L940,785.5 L940,781.9 L940.8,781.9 L940.8,783.9 L941.6,783.9 L941.6,784.9 L942.4,784.9 L942.4,782.9 L943.2,782.9 L943.2,784.5 L944,784.5 L944,785.8 L944.9,785.8 L944.9,783 L945.7,783 L945.7,786.4 L946.5,786.4 L946.5,782.5 L947.3,782.5 L947.3,785.4 L948.1,785.4 L948.1,783.4 L948.9,783.4 L948.9,781.6 L949.7,781.6 L949.7,783.6 L950.5,783.6 L950.5,783.2 L951.3,783.2 L951.3,785 L952.1,785 L952.1,786.5 L953,786.5 L953,786.4 L953.8,786.4 L953.8,785.8 L954.6,785.8 L954.6,783.4 L955.4,783.4 L955.4,784.3 L956.2,784.3 L956.2,783.9 L957,783.9 L957,781.9 L957.8,781.9 L957.8,785.8 L958.6,785.8 L958.6,785.3 L959.4,785.3 L959.4,783.1 L960.2,783.1 L960.2,786.3 L961.1,786.3 L961.1,786.4 L961.9,786.4 L961.9,784.5 L962.7,784.5 L962.7,785.8 L963.5,785.8 L963.5,784.5 L964.3,784.5 L964.3,785.2 L965.1,785.2 L965.1,783.3 L965.9,783.3 L965.9,783.2 L966.7,783.2 L966.7,785.2 L967.5,785.2 L967.5,783 L968.3,783 L968.3,783.8 L969.2,783.8 L969.2,785.6 L970,785.6 L970,781.3 L970.8,781.3 L970.8,785 L971.6,785 L971.6,785.5 L972.4,785.5 L972.4,785.7 L973.2,785.7 L973.2,782.8 L974,782.8 L974,781.5 L974.8,781.5 L974.8,782 L975.6,782 L975.6,783.7 L976.4,783.7 L976.4,784 L977.3,784 L977.3,785.2 L978.1,785.2 L978.1,780.7 L978.9,780.7 L978.9,780.7 L979.7,780.7 L979.7,781.7 L980.5,781.7 L980.5,779.5 L981.3,779.5 L981.3,772.5 L982.1,772.5 L982.1,777.4 L982.9,777.4 L982.9,778.9 L983.7,778.9 L983.7,782.4 L984.5,782.4 L984.5,777.8 L985.4,777.8 L985.4,783.9 L986.2,783.9 L986.2,780.5 L987,780.5 L987,781.4 L987.8,781.4 L987.8,782.6 L988.6,782.6 L988.6,783.9 L989.4,783.9 L989.4,778.8 L990.2,778.8 L990.2,784.2 L991,784.2 L991,780.5 L991.8,780.5 L991.8,777.8 L992.6,777.8 L992.6,783.4 L993.5,783.4 L993.5,783 L994.3,783 L994.3,780.2 L995.1,780.2 L995.1,780.9 L995.9,780.9 L995.9,780 L996.7,780 L996.7,778.9 L997.5,778.9 L997.5,783.3 L998.3,783.3 L998.3,782.4 L999.1,782.4 L999.1,782.5 L999.9,782.5 L999.9,784.2 L1000.7,784.2 L1000.7,778.5 L1001.6,778.5 L1001.6,779.3 L1002.4,779.3 L1002.4,779.8 L1003.2,779.8 L1003.2,784.6 L1004,784.6 L1004,779 L1004.8,779 L1004.8,779.7 L1005.6,779.7 L1005.6,781.6 L1006.4,781.6 L1006.4,779.7 L1007.2,779.7 L1007.2,781.7 L1008,781.7 L1008,783.2 L1008.8,783.2 L1008.8,784.1 L1009.7,784.1 L1009.7,783.2 L1010.5,783.2 L1010.5,784.5 L1011.3,784.5 L1011.3,782.5 L1012.1,782.5 L1012.1,779.3 L1012.9,779.3 L1012.9,779.3 L1013.7,779.3 L1013.7,777.8 L1014.5,777.8 L1014.5,778.3 L1015.3,778.3 L1015.3,781.4 L1016.1,781.4 L1016.1,778.8 L1016.9,778.8 L1016.9,779.4 L1017.8,779.4 L1017.8,776.1 L1018.6,776.1 L1018.6,777.9 L1019.4,777.9 L1019.4,779.8 L1020.2,779.8 L1020.2,776.2 L1021,776.2 L1021,773.3 L1021.8,773.3 L1021.8,780 L1022.6,780 L1022.6,774.1 L1023.4,774.1 L1023.4,781.9 L1024.2,781.9 L1024.2,779.7 L1025,779.7 L1025,779.9 L1025.9,779.9 L1025.9,775.3 L1026.7,775.3 L1026.7,773.5 L1027.5,773.5 L1027.5,775.3 L1028.3,775.3 L1028.3,779.1 L1029.1,779.1 L1029.1,774.1 L1029.9,774.1 L1029.9,779 L1030.7,779 L1030.7,779.8 L1031.5,779.8 L1031.5,773.8 L1032.3,773.8 L1032.3,776.6 L1033.1,776.6 L1033.1,776.6 L1034,776.6 L1034,777.5 L1034.8,777.5 L1034.8,775.6 L1035.6,775.6 L1035.6,780.2 L1036.4,780.2 L1036.4,778 L1037.2,778 L1037.2,778.5 L1038,778.5 L1038,779.2 L1038.8,779.2 L1038.8,782.5 L1039.6,782.5 L1039.6,781.4 L1040.4,781.4 L1040.4,782.8 L1041.2,782.8 L1041.2,784.8 L1042.1,784.8 L1042.1,785.7 L1042.9,785.7 L1042.9,784.3 L1043.7,784.3 L1043.7,787.2 L1044.5,787.2 L1044.5,784.4 L1045.3,784.4 L1045.3,787.8 L1046.1,787.8 L1046.1,788.6 L1046.9,788.6 L1046.9,788.2 L1047.7,788.2 L1047.7,785.4 L1048.5,785.4 L1048.5,787.4 L1049.3,787.4 L1049.3,788 L1050.2,788 L1050.2,788.3 L1051,788.3 L1051,788.3 L1051.8,788.3 L1051.8,785.9 L1052.6,785.9 L1052.6,786.1 L1053.4,786.1 L1053.4,785.8 L1054.2,785.8 L1054.2,785.6 L1055,785.6 L1055,788 L1055.8,788 L1055.8,786 L1056.6,786 L1056.6,786.8 L1057.4,786.8 L1057.4,785 L1058.3,785 L1058.3,784.9 L1059.1,784.9 L1059.1,784.6 L1059.9,784.6 L1059.9,787.7 L1060.7,787.7 L1060.7,784.5 L1061.5,784.5 L1061.5,784.3 L1062.3,784.3 L1062.3,784.1 L1063.1,784.1 L1063.1,787.4 L1063.9,787.4 L1063.9,786.9 L1064.7,786.9 L1064.7,787.3 L1065.5,787.3 L1065.5,787.6 L1066.4,787.6 L1066.4,784.1 L1067.2,784.1 L1067.2,784.2 L1068,784.2 L1068,784.9 L1068.8,784.9 L1068.8,784 L1069.6,784 L1069.6,784.8 L1070.4,784.8 L1070.4,786.2 L1071.2,786.2 L1071.2,787 L1072,787 L1072,787 L1072.8,787 L1072.8,784 L1073.6,784 L1073.6,786.4 L1074.5,786.4 L1074.5,785.8 L1075.3,785.8 L1075.3,785.3 L1076.1,785.3 L1076.1,787.1 L1076.9,787.1 L1076.9,786 L1077.7,786 L1077.7,785.8 L1078.5,785.8 L1078.5,783.7 L1079.3,783.7 L1079.3,785.3 L1080.1,785.3 L1080.1,785.5 L1080.9,785.5 L1080.9,782.4 L1081.7,782.4 L1081.7,784.5 L1082.6,784.5 L1082.6,782.8 L1083.4,782.8 L1083.4,783.9 L1084.2,783.9 L1084.2,786.8 L1085,786.8 L1085,784.9 L1085.8,784.9 L1085.8,784.8 L1086.6,784.8 L1086.6,783.2 L1087.4,783.2 L1087.4,785.2 L1088.2,785.2 L1088.2,783.5 L1089,783.5 L1089,784.3 L1089.8,784.3 L1089.8,785.9 L1090.7,785.9 L1090.7,782.8 L1091.5,782.8 L1091.5,786.5 L1092.3,786.5 L1092.3,783 L1093.1,783 L1093.1,786.1 L1093.9,786.1 L1093.9,786.9 L1094.7,786.9 L1094.7,785.9 L1095.5,785.9 L1095.5,783.2 L1096.3,783.2 L1096.3,782.2 L1097.1,782.2 L1097.1,786.9 L1097.9,786.9 L1097.9,784.5 L1098.8,784.5 L1098.8,784.5 L1099.6,784.5 L1099.6,783.1 L1100.4,783.1 L1100.4,786 L1101.2,786 L1101.2,784.5 L1102,784.5 L1102,785.2 L1102.8,785.2 L1102.8,782.9 L1103.6,782.9 L1103.6,785.6 L1104.4,785.6 L1104.4,782.4 L1105.2,782.4 L1105.2,785.5 L1106,785.5 L1106,785.9 L1106.9,785.9 L1106.9,783.5 L1107.7,783.5 L1107.7,784.5 L1108.5,784.5 L1108.5,786.4 L1109.3,786.4 L1109.3,783.8 L1110.1,783.8 L1110.1,786.5 L1110.9,786.5 L1110.9,783.1 L1111.7,783.1 L1111.7,783.6 L1112.5,783.6 L1112.5,783.1 L1113.3,783.1 L1113.3,783.9 L1114.1,783.9 L1114.1,785.2 L1115,785.2 L1115,785 L1115.8,785 L1115.8,785 L1116.6,785 L1116.6,782.6 L1117.4,782.6 L1117.4,786.4 L1118.2,786.4 L1118.2,782 L1119,782 L1119,786.2 L1119.8,786.2 L1119.8,784.9 L1120.6,784.9 L1120.6,784.3 L1121.4,784.3 L1121.4,780.2 L1122.2,780.2 L1122.2,782.2 L1123.1,782.2 L1123.1,782.7 L1123.9,782.7 L1123.9,779 L1124.7,779 L1124.7,783.3 L1125.5,783.3 L1125.5,781.8 L1126.3,781.8 L1126.3,781.3 L1127.1,781.3 L1127.1,779.8 L1127.9,779.8 L1127.9,779.8 L1128.7,779.8 L1128.7,780.5 L1129.5,780.5 L1129.5,782.5 L1130.3,782.5 L1130.3,782.6 L1131.2,782.6 L1131.2,783.8 L1132,783.8 L1132,779.2 L1132.8,779.2 L1132.8,780.4 L1133.6,780.4 L1133.6,779.9 L1134.4,779.9 L1134.4,783.7 L1135.2,783.7 L1135.2,781.9 L1136,781.9 L1136,779.7 L1136.8,779.7 L1136.8,781 L1137.6,781 L1137.6,784 L1138.4,784 L1138.4,781.8 L1139.3,781.8 L1139.3,779 L1140.1,779 L1140.1,783.2 L1140.9,783.2 L1140.9,783.5 L1141.7,783.5 L1141.7,782.8 L1142.5,782.8 L1142.5,780.2 L1143.3,780.2 L1143.3,779.2 L1144.1,779.2 L1144.1,783.8 L1144.9,783.8 L1144.9,783.8 L1145.7,783.8 L1145.7,783.2 L1146.5,783.2 L1146.5,782.6 L1147.4,782.6 L1147.4,773.5 L1148.2,773.5 L1148.2,783.7 L1149,783.7 L1149,782.6 L1149.8,782.6 L1149.8,783.6 L1150.6,783.6 L1150.6,778.4 L1151.4,778.4 L1151.4,780 L1152.2,780 L1152.2,784.1 L1153,784.1 L1153,778.5 L1153.8,778.5 L1153.8,784.2 L1154.6,784.2 L1154.6,782.3 L1155.5,782.3 L1155.5,778.5 L1156.3,778.5 L1156.3,779.8 L1157.1,779.8 L1157.1,780.2 L1157.9,780.2 L1157.9,782.2 L1158.7,782.2 L1158.7,783.8 L1159.5,783.8 L1159.5,781 L1160.3,781 L1160.3,784.4 L1161.1,784.4 L1161.1,783.8 L1161.9,783.8 L1161.9,782.7 L1162.7,782.7 L1162.7,785 L1163.6,785 L1163.6,782.7 L1164.4,782.7 L1164.4,780.3 L1165.2,780.3 L1165.2,781 L1166,781 L1166,782.2 L1166.8,782.2 L1166.8,781.5 L1167.6,781.5 L1167.6,782.5 L1168.4,782.5 L1168.4,784.5 L1169.2,784.5 L1169.2,781.8 L1170,781.8 L1170,783 L1170.8,783 L1170.8,781 L1171.7,781 L1171.7,780.1 L1172.5,780.1 L1172.5,783 L1173.3,783 L1173.3,782.2 L1174.1,782.2 L1174.1,781.2 L1174.9,781.2 L1174.9,783.2 L1175.7,783.2 L1175.7,784.3 L1176.5,784.3 L1176.5,781.5 L1177.3,781.5 L1177.3,780.7 L1178.1,780.7 L1178.1,781.3 L1178.9,781.3 L1178.9,781.8 L1179.8,781.8 L1179.8,781 L1180.6,781 L1180.6,782 L1181.4,782 L1181.4,782.3 L1182.2,782.3 L1182.2,783.4 L1183,783.4 L1183,784.2 L1183.8,784.2 L1183.8,782.5 L1184.6,782.5 L1184.6,785.5 L1185.4,785.5 L1185.4,783.7 L1186.2,783.7 L1186.2,781.8 L1187,781.8 L1187,782.2 L1187.9,782.2 L1187.9,782.7 L1188.7,782.7 L1188.7,784.8 L1189.5,784.8 L1189.5,783.9 L1190.3,783.9 L1190.3,783.8 L1191.1,783.8 L1191.1,783 L1191.9,783 L1191.9,784.1 L1192.7,784.1 L1192.7,782.8 L1193.5,782.8 L1193.5,781.5 L1194.3,781.5 L1194.3,785.5 L1195.1,785.5 L1195.1,783 L1196,783 L1196,782.4 L1196.8,782.4 L1196.8,784.5 L1197.6,784.5 L1197.6,784 L1198.4,784 L1198.4,781.6 L1199.2,781.6 L1199.2,786.4 L1200,786.4 L1200,783.9 L1200.8,783.9 L1200.8,785.9 L1201.6,785.9 L1201.6,782.8 L1202.4,782.8 L1202.4,782.1 L1203.2,782.1 L1203.2,784.2 L1204.1,784.2 L1204.1,786.3 L1204.9,786.3 L1204.9,784 L1205.7,784 L1205.7,784.2 L1206.5,784.2 L1206.5,783.4 L1207.3,783.4 L1207.3,784.3 L1208.1,784.3 L1208.1,783.4 L1208.9,783.4 L1208.9,782.1 L1209.7,782.1 L1209.7,783.4 L1210.5,783.4 L1210.5,783.7 L1211.3,783.7 L1211.3,780.4 L1212.2,780.4 L1212.2,784.4 L1213,784.4 L1213,781.2 L1213.8,781.2 L1213.8,782.8 L1214.6,782.8 L1214.6,780.1 L1215.4,780.1 L1215.4,784 L1216.2,784 L1216.2,777.9 L1217,777.9 L1217,781.9 L1217.8,781.9 L1217.8,783.8 L1218.6,783.8 L1218.6,782 L1219.4,782 L1219.4,780.8 L1220.3,780.8 L1220.3,783.5 L1221.1,783.5 L1221.1,780.1 L1221.9,780.1 L1221.9,780 L1222.7,780 L1222.7,777.7 L1223.5,777.7 L1223.5,780.3 L1224.3,780.3 L1224.3,780.9 L1225.1,780.9 L1225.1,781.2 L1225.9,781.2 L1225.9,776.8 L1226.7,776.8 L1226.7,775.1 L1227.5,775.1 L1227.5,778.4 L1228.4,778.4 L1228.4,780.8 L1229.2,780.8 L1229.2,775.8 L1230,775.8 L1230,761.5 L1230.8,761.5 L1230.8,780.6 L1231.6,780.6 L1231.6,781.2 L1232.4,781.2 L1232.4,775.5 L1233.2,775.5 L1233.2,775.1 L1234,775.1 L1234,776.5 L1234.8,776.5 L1234.8,777.8 L1235.6,777.8 L1235.6,776.9 L1236.5,776.9 L1236.5,779.8 L1237.3,779.8 L1237.3,773 L1238.1,773 L1238.1,778.5 L1238.9,778.5 L1238.9,775.7 L1239.7,775.7 L1239.7,773.9 L1240.5,773.9 L1240.5,773.8 L1241.3,773.8 L1241.3,777 L1242.1,777 L1242.1,778.5 L1242.9,778.5 L1242.9,776 L1243.7,776 L1243.7,762.5 L1244.6,762.5 L1244.6,773 L1245.4,773 L1245.4,777.5 L1246.2,777.5 L1246.2,772.5 L1247,772.5 L1247,778.2 L1247.8,778.2 L1247.8,777 L1248.6,777 L1248.6,778.1 L1249.4,778.1 L1249.4,776.3 L1250.2,776.3 L1250.2,778.6 L1251,778.6 L1251,780.4 L1251.8,780.4 L1251.8,766.5 L1252.7,766.5 L1252.7,777.4 L1253.5,777.4 L1253.5,777.7 L1254.3,777.7 L1254.3,777 L1255.1,777 L1255.1,775 L1255.9,775 L1255.9,775.4 L1256.7,775.4 L1256.7,773 L1257.5,773 L1257.5,772.7 L1258.3,772.7 L1258.3,775.8 L1259.1,775.8 L1259.1,769.5 L1259.9,769.5 L1259.9,770.1 L1260.8,770.1 L1260.8,778.9 L1261.6,778.9 L1261.6,770.2 L1262.4,770.2 L1262.4,769.2 L1263.2,769.2 L1263.2,770.4 L1264,770.4 L1264,777.6 L1264.8,777.6 L1264.8,704.5 L1265.6,704.5 L1265.6,776.4 L1266.4,776.4 L1266.4,782.6 L1267.2,782.6 L1267.2,782.6 L1268,782.6 L1268,774.7 L1268.9,774.7 L1268.9,777.2 L1269.7,777.2 L1269.7,780.6 L1270.5,780.6 L1270.5,781.8 L1271.3,781.8 L1271.3,781.5 L1272.1,781.5 L1272.1,780.7 L1272.9,780.7 L1272.9,776.2 L1273.7,776.2 L1273.7,779.8 L1274.5,779.8 L1274.5,781.4 L1275.3,781.4 L1275.3,775.1 L1276.1,775.1 L1276.1,776 L1277,776 L1277,781.3 L1277.8,781.3 L1277.8,775.2 L1278.6,775.2 L1278.6,777.6 L1279.4,777.6 L1279.4,776.1 L1280.2,776.1 L1280.2,777.1 L1281,777.1 L1281,775.2 L1281.8,775.2 L1281.8,776.1 L1282.6,776.1 L1282.6,775.7 L1283.4,775.7 L1283.4,781 L1284.2,781 L1284.2,776.9 L1285.1,776.9 L1285.1,778.2 L1285.9,778.2 L1285.9,776.5 L1286.7,776.5 L1286.7,779 L1287.5,779 L1287.5,775.3 L1288.3,775.3 L1288.3,778 L1289.1,778 L1289.1,780.5 L1289.9,780.5 L1289.9,780.7 L1290.7,780.7 L1290.7,781.5 L1291.5,781.5 L1291.5,778.6 L1292.3,778.6 L1292.3,782.2 L1293.2,782.2 L1293.2,768.5 L1294,768.5 L1294,781.5 L1294.8,781.5 L1294.8,778.6 L1295.6,778.6 L1295.6,778.5 L1296.4,778.5 L1296.4,778.2 L1297.2,778.2 L1297.2,775.5 L1298,775.5 L1298,782.6 L1298.8,782.6 L1298.8,775.6 L1299.6,775.6 L1299.6,778.8 L1300.4,778.8 L1300.4,778 L1301.3,778 L1301.3,777.1 L1302.1,777.1 L1302.1,775.6 L1302.9,775.6 L1302.9,779.5 L1303.7,779.5 L1303.7,779.1 L1304.5,779.1 L1304.5,774.4 L1305.3,774.4 L1305.3,781.9 L1306.1,781.9 L1306.1,777 L1306.9,777 L1306.9,776.9 L1307.7,776.9 L1307.7,782.1 L1308.5,782.1 L1308.5,777 L1309.4,777 L1309.4,776.3 L1310.2,776.3 L1310.2,774.1 L1311,774.1 L1311,770.5 L1311.8,770.5 L1311.8,773.5 L1312.6,773.5 L1312.6,777.6 L1313.4,777.6 L1313.4,777.7 L1314.2,777.7 L1314.2,774 L1315,774 L1315,781.7 L1315.8,781.7 L1315.8,775.4 L1316.6,775.4 L1316.6,776.2 L1317.5,776.2 L1317.5,778.8 L1318.3,778.8 L1318.3,773.9 L1319.1,773.9 L1319.1,778.4 L1319.9,778.4 L1319.9,777.3 L1320.7,777.3 L1320.7,776.8 L1321.5,776.8 L1321.5,774.4 L1322.3,774.4 L1322.3,779.6 L1323.1,779.6 L1323.1,777.4 L1323.9,777.4 L1323.9,777.5 L1324.7,777.5 L1324.7,776.2 L1325.6,776.2 L1325.6,772.5 L1326.4,772.5 L1326.4,772.5 L1327.2,772.5 L1327.2,773.4 L1328,773.4 L1328,777.4 L1328.8,777.4 L1328.8,776.3 L1329.6,776.3 L1329.6,778.5 L1330.4,778.5 L1330.4,776.2 L1331.2,776.2 L1331.2,771.5 L1332,771.5 L1332,774.6 L1332.8,774.6 L1332.8,773.2 L1333.7,773.2 L1333.7,777.7 L1334.5,777.7 L1334.5,777.8 L1335.3,777.8 L1335.3,777.9 L1336.1,777.9 L1336.1,760.5 L1336.9,760.5 L1336.9,774.4 L1337.7,774.4 L1337.7,772.8 L1338.5,772.8 L1338.5,780.3 L1339.3,780.3 L1339.3,773.3 L1340.1,773.3 L1340.1,771.8 L1340.9,771.8 L1340.9,776.2 L1341.8,776.2 L1341.8,781.6 L1342.6,781.6 L1342.6,780.3 L1343.4,780.3 L1343.4,783.4 L1344.2,783.4 L1344.2,782.8 L1345,782.8 L1345,778.7 L1345.8,778.7 L1345.8,780.8 L1346.6,780.8 L1346.6,780.5 L1347.4,780.5 L1347.4,779.7 L1348.2,779.7 L1348.2,779 L1349,779 L1349,781 L1349.9,781 L1349.9,781 L1350.7,781 L1350.7,780.9 L1351.5,780.9 L1351.5,780.5 L1352.3,780.5 L1352.3,781.2 L1353.1,781.2 L1353.1,780.7 L1353.9,780.7 L1353.9,783.7 L1354.7,783.7 L1354.7,780.9 L1355.5,780.9 L1355.5,782.2 L1356.3,782.2 L1356.3,780.3 L1357.1,780.3 L1357.1,784.5 L1358,784.5 L1358,784.1 L1358.8,784.1 L1358.8,785 L1359.6,785 L1359.6,780.4 L1360.4,780.4 L1360.4,779.6 L1361.2,779.6 L1361.2,781.2 L1362,781.2 L1362,783 L1362.8,783 L1362.8,780.3 L1363.6,780.3 L1363.6,780.6 L1364.4,780.6 L1364.4,782 L1365.2,782 L1365.2,783.8 L1366.1,783.8 L1366.1,783.6 L1366.9,783.6 L1366.9,782.9 L1367.7,782.9 L1367.7,783.6 L1368.5,783.6 L1368.5,783 L1369.3,783 L1369.3,781.9 L1370.1,781.9 L1370.1,780.3 L1370.9,780.3 L1370.9,785.5 L1371.7,785.5 L1371.7,782.7 L1372.5,782.7 L1372.5,785.8 L1373.3,785.8 L1373.3,785.4 L1374.2,785.4 L1374.2,781.8 L1375,781.8 L1375,783.2 L1375.8,783.2 L1375.8,781.5 L1376.6,781.5 L1376.6,784.1 L1377.4,784.1 L1377.4,786.5 L1378.2,786.5 L1378.2,784.7 L1379,784.7 L1379,783.8 L1379.8,783.8 L1379.8,782.2 L1380.6,782.2 L1380.6,782.2 L1381.4,782.2 L1381.4,784.7 L1382.3,784.7 L1382.3,785.2 L1383.1,785.2 L1383.1,786.7 L1383.9,786.7 L1383.9,784.4 L1384.7,784.4 L1384.7,786.4 L1385.5,786.4 L1385.5,786.8 L1386.3,786.8 L1386.3,787.5 L1387.1,787.5 L1387.1,787.6 L1387.9,787.6 L1387.9,784.5 L1388.7,784.5 L1388.7,786.8 L1389.5,786.8 L1389.5,782.9 L1390.4,782.9 L1390.4,786.7 L1391.2,786.7 L1391.2,783 L1392,783 L1392,786.3 L1392.8,786.3 L1392.8,786.7 L1393.6,786.7 L1393.6,783.1 L1394.4,783.1 L1394.4,785.4 L1395.2,785.4 L1395.2,782.7 L1396,782.7 L1396,785.4 L1396.8,785.4 L1396.8,786 L1397.6,786 L1397.6,782 L1398.5,782 L1398.5,782.1 L1399.3,782.1 L1399.3,781.1 L1400.1,781.1 L1400.1,781.7 L1400.9,781.7 L1400.9,785.4 L1401.7,785.4 L1401.7,782.3 L1402.5,782.3 L1402.5,781.8 L1403.3,781.8 L1403.3,783.2 L1404.1,783.2 L1404.1,780.5 L1404.9,780.5 L1404.9,784.4 L1405.7,784.4 L1405.7,780.4 L1406.6,780.4 L1406.6,781.8 L1407.4,781.8 L1407.4,785.8 L1408.2,785.8 L1408.2,785.8 L1409,785.8 L1409,782.1 L1409.8,782.1 L1409.8,781.2 L1410.6,781.2 L1410.6,785.4 L1411.4,785.4 L1411.4,784.1 L1412.2,784.1 L1412.2,781.7 L1413,781.7 L1413,784.9 L1413.8,784.9 L1413.8,780.9 L1414.7,780.9 L1414.7,783.1 L1415.5,783.1 L1415.5,785.5 L1416.3,785.5 L1416.3,783.8 L1417.1,783.8 L1417.1,782.6 L1417.9,782.6 L1417.9,783.3 L1418.7,783.3 L1418.7,782 L1419.5,782 L1419.5,785 L1420.3,785 L1420.3,781.3 L1421.1,781.3 L1421.1,775.5 L1421.9,775.5 L1421.9,782.2 L1422.8,782.2 L1422.8,782.3 L1423.6,782.3 L1423.6,783.5 L1424.4,783.5 L1424.4,783.7 L1425.2,783.7 L1425.2,781.4 L1426,781.4 L1426,780.5 L1426.8,780.5 L1426.8,781.4 L1427.6,781.4 L1427.6,782.6 L1428.4,782.6 L1428.4,784.2 L1429.2,784.2 L1429.2,785.5 L1430,785.5 L1430,780.3 L1430.9,780.3 L1430.9,781.8 L1431.7,781.8 L1431.7,781.1 L1432.5,781.1 L1432.5,784 L1433.3,784 L1433.3,782.4 L1434.1,782.4 L1434.1,780.3 L1434.9,780.3 L1434.9,781.1 L1435.7,781.1 L1435.7,782.4 L1436.5,782.4 L1436.5,784.1 L1437.3,784.1 L1437.3,783.4 L1438.1,783.4 L1438.1,780.8 L1439,780.8 L1439,783.7 L1439.8,783.7 L1439.8,781.9 L1440.6,781.9 L1440.6,782.4 L1441.4,782.4 L1441.4,780.7 L1442.2,780.7 L1442.2,781.2 L1443,781.2 L1443,784.2 L1443.8,784.2 L1443.8,785.8 L1444.6,785.8 L1444.6,784.4 L1445.4,784.4 L1445.4,783.4 L1446.2,783.4 L1446.2,782.5 L1447.1,782.5 L1447.1,781.2 L1447.9,781.2 L1447.9,780.8 L1448.7,780.8 L1448.7,785.6 L1449.5,785.6 L1449.5,781.1 L1450.3,781.1 L1450.3,781.2 L1451.1,781.2 L1451.1,780.9 L1451.9,780.9 L1451.9,782.6 L1452.7,782.6 L1452.7,784.3 L1453.5,784.3 L1453.5,781 L1454.3,781 L1454.3,781.2 L1455.2,781.2 L1455.2,781.9 L1456,781.9 L1456,780.6 L1456.8,780.6 L1456.8,783.9 L1457.6,783.9 L1457.6,785.4 L1458.4,785.4 L1458.4,782.7 L1459.2,782.7 L1459.2,781.3 L1460,781.3 L1460,784.7 L1460.8,784.7 L1460.8,781.6 L1461.6,781.6 L1461.6,780.5 L1462.4,780.5 L1462.4,784.5 L1463.3,784.5 L1463.3,782.4 L1464.1,782.4 L1464.1,782 L1464.9,782 L1464.9,783.2 L1465.7,783.2 L1465.7,784.7 L1466.5,784.7 L1466.5,784.4 L1467.3,784.4 L1467.3,781.6 L1468.1,781.6 L1468.1,781.3 L1468.9,781.3 L1468.9,783.2 L1469.7,783.2 L1469.7,785.4 L1470.5,785.4 L1470.5,781.3 L1471.4,781.3 L1471.4,781.4 L1472.2,781.4 L1472.2,784.5 L1473,784.5 L1473,782.5 L1473.8,782.5 L1473.8,780.7 L1474.6,780.7 L1474.6,780.8 L1475.4,780.8 L1475.4,782.9 L1476.2,782.9 L1476.2,783.1 L1477,783.1 L1477,782.5 L1477.8,782.5 L1477.8,784.8 L1478.6,784.8 L1478.6,784.8 L1479.5,784.8 L1479.5,784.8 L1480.3,784.8 L1480.3,781.9 L1481.1,781.9 L1481.1,783.8 L1481.9,783.8 L1481.9,782.6 L1482.7,782.6 L1482.7,783.6 L1483.5,783.6 L1483.5,782.9 L1484.3,782.9 L1484.3,785 L1485.1,785 L1485.1,785.6 L1485.9,785.6 L1485.9,780.2 L1486.7,780.2 L1486.7,783.7 L1487.6,783.7 L1487.6,785.2 L1488.4,785.2 L1488.4,782.2 L1489.2,782.2 L1489.2,781.4 L1490,781.4 L1490,785 L1490.8,785 L1490.8,782.4 L1491.6,782.4 L1491.6,783.9 L1492.4,783.9 L1492.4,782.9 L1493.2,782.9 L1493.2,776.5 L1494,776.5 L1494,785.7 L1494.8,785.7 L1494.8,780.2 L1495.7,780.2 L1495.7,780.9 L1496.5,780.9 L1496,792.5 Z" fill="#d1d6e4"/>
    <line x1="89.5" x2="1496" y1="792.5" y2="792.5" stroke="#d1d6e4" stroke-width="1.2"/>
    <path d="M89.8,700.2 L92,699.7 L94.2,699.3 L96.9,701.6 L99.6,701.1 L102.3,702.3 L104.1,702.1 L105.9,702 L107.6,701.4 L109.4,701.1 L111.2,700.9 L113,700.7 L114.8,700.2 L116.6,700.2 L118.4,700.1 L120.1,700.2 L121.9,700.3 L123.7,700 L125.5,699.4 L127.3,699.3 L129.1,698.9 L130.9,698.9 L132.6,698.6 L134.4,697.9 L136.2,697.1 L138.4,695.9 L140.7,695.4 L142.9,696.1 L145.1,696.1 L147.2,695 L149.3,693.3 L151.4,691.8 L154.1,693.9 L155.9,692.9 L157.6,691.8 L159.4,689.9 L161.2,688.6 L163,687.7 L164.8,687.7 L167,689.5 L169.2,691.2 L171,690.1 L172.8,689.4 L174.6,688.9 L176.4,689.7 L178.2,690.9 L180,690.2 L181.8,690.2 L183.5,689.9 L185.3,689.6 L187.1,690.6 L188.9,691 L190.7,691.6 L192.5,693.1 L194.2,694.3 L197.3,688.6 L200.5,689.8 L202.3,689.2 L204.1,688.6 L207.3,688.9 L209.2,686.9 L211.2,684.6 L213.9,683.6 L216.1,680.5 L218.4,677.5 L221,678.2 L223.7,680 L226.4,677.1 L229.1,676.6 L232.3,673.6 L234.4,677.9 L237.1,676.1 L239.8,678.2 L241.6,679.3 L242.8,685.9 L245.1,680 L246.9,681 L248.7,682.3 L251.4,681.8 L254.1,678.4 L255.9,678.1 L257.6,677 L260.3,678.2 L262.6,676.2 L264.8,673.4 L266.6,667.5 L269.2,668.6 L271,667.5 L272.8,665.7 L275.1,669.3 L277.3,666.8 L279.4,667.1 L282.6,659.6 L285.3,655.5 L287.6,656.4 L290.7,666.2 L293.4,652.9 L295.1,652 L296.9,650.7 L298.7,649.8 L300.5,649.3 L303.2,637.7 L305,635 L306.8,629.6 L309.4,623.4 L310.9,580.5 L312.6,600.2 L314.8,585 L316.6,591.2 L318.4,568.9 L320.1,573.4 L322.8,609.1 L325.5,608.2 L326.9,593 L328.2,601.1 L330,616.2 L330,615.4 L332.7,601.1 L335,582.9 L337.1,601.1 L338.9,603.8 L340.4,612.7 L341.6,606.4 L342.9,613.6 L343.9,627.9 L346.1,617.1 L347.9,630.5 L350.5,628.8 L352.9,624.3 L355,636.8 L357.7,645.7 L359.5,659.1 L361.2,650.2 L363.9,647.5 L366.6,642.1 L368.9,629.6 L371.4,627.5 L373.8,636.8 L375.5,639.5 L377.9,631.4 L379.8,628.4 L381.8,626.1 L384.5,640.4 L387.1,643 L388.9,645.7 L391.6,651.4 L393.4,647.9 L395.2,644.8 L397.9,645.7 L399.6,649.3 L401.4,653.8 L403.2,659.1 L405.9,655.5 L408.6,660.9 L411.2,659.6 L413,652 L415.7,650.2 L417.5,651.1 L420.2,645.7 L422.5,639.5 L424.6,643.6 L426.4,643 L428.2,641.8 L430,639.9 L431.8,638.2 L434.5,642.1 L437.1,647.5 L439.8,647.5 L441.6,650.2 L444.3,647.5 L447,654.1 L448.8,656.1 L450.5,657.3 L453.2,654.6 L455.4,654.1 L457.7,653.8 L460.4,654.6 L463,662.7 L465.7,661.8 L468.4,660.4 L471.1,664.5 L473.3,665.8 L475.5,666.2 L478.2,662.7 L480.4,661.5 L482.7,659.6 L485.4,661.8 L488,664.5 L490.7,656.4 L493.4,655.5 L496.4,648.4 L499.6,650.2 L502.3,651.1 L504.1,654.1 L505.9,658.2 L507.7,660.8 L509.5,663.9 L511.2,664.6 L513,664.5 L514.8,663.3 L516.6,662.1 L519.3,663.2 L521.1,662.1 L522.9,660 L524.6,658.6 L526.4,657.3 L528.7,656.3 L530.9,656.1 L533.6,663.6 L535.8,663 L538,662.1 L539.8,663.1 L541.6,663.6 L543.4,661.7 L545.2,660.4 L547.9,662.1 L550.1,661.6 L552.3,661.8 L554.1,661.5 L555.9,662 L557.7,661.4 L559.5,663 L561.2,664.1 L563.9,661.8 L565.9,661.8 L567.9,662.3 L569.8,662.9 L570,662.1 L571.8,661.9 L573.6,662.1 L575.4,662.7 L578,663.2 L580.3,662.8 L582.5,661.8 L584.7,661.9 L587,662.7 L588.8,667.1 L591.4,668.9 L593.2,676.1 L595,678.6 L596.8,681.1 L598.6,679.6 L600.4,678.2 L603,679.6 L605.3,681.3 L607.5,683.6 L610.2,683.2 L612,684.5 L613.8,685.4 L615.5,681.7 L617.3,678.8 L620,680 L622.7,682.3 L624.9,681.8 L627.1,681.1 L629.4,680 L631.6,679.6 L633.8,681.2 L636.1,682.9 L637.9,682.4 L639.6,682.3 L641.4,682.3 L643.2,683 L645,683.2 L646.8,683.1 L648.6,683.6 L650.4,683.9 L652.1,683.3 L653.9,683.6 L655.7,682.9 L657.5,682.3 L659.6,682.6 L661.7,682.4 L663.8,682.3 L665.5,680.6 L667.3,679.6 L670,679.3 L671.8,680.8 L673.6,681.4 L675.4,681 L677.1,680.8 L678.9,681 L680.7,680.5 L682.5,680.1 L684.3,679.7 L686.1,679.2 L687.9,679.3 L689.6,679 L691.4,679.5 L693.2,679.3 L695,679.6 L697.2,679 L699.5,678.2 L700.4,673.4 L702.1,672.4 L703.9,671.6 L705.7,670.7 L707.5,672 L709.3,672.5 L711.1,671.8 L712.9,671.1 L714.5,670.4 L716.2,670 L717.9,668.9 L720,671.1 L722.7,670.7 L724.5,668.6 L726.2,667.1 L728,666.4 L729.8,666.2 L732.5,660 L734.6,651.1 L737,654.6 L738.8,650.2 L741.4,652.9 L743.2,649.7 L745,645.7 L746.8,646.9 L748.6,647.5 L750.4,646.6 L752.1,652.9 L754.4,652.4 L756.6,652.5 L759.3,648.4 L761.1,645.4 L762.9,643 L764.6,641.2 L766.4,635 L768.2,630.5 L769.6,615.4 L770.9,624.3 L771.8,619.8 L773.6,632.3 L775.4,624.3 L777.1,627 L780.4,618 L782.5,626.1 L784.3,630.5 L786.1,641.2 L787.9,633.2 L789.6,631.4 L792.3,638.6 L794.1,640.2 L795.9,641.2 L798.6,635 L800.4,630.2 L802.1,624.3 L804.8,622.9 L807.5,627 L809.3,636.8 L811.1,635 L813.2,630 L814.6,635.9 L816.4,635.1 L818.2,635 L818.9,634.6 L822.1,640.4 L823.9,637.1 L825.7,632.9 L827.7,633.9 L829.6,634.1 L831.8,635.9 L835,634.1 L837.1,635 L839.2,635.6 L841.2,636.4 L843,647.5 L844.8,650.2 L846.6,648.9 L848.4,648.4 L850.2,649.2 L852,651.1 L853.8,649.8 L855.5,647.5 L857.3,648.1 L859.1,649.3 L860.9,650.6 L862.7,651.4 L865.4,650.2 L866.8,654.6 L868.9,641.2 L870.7,641.6 L872.5,642.5 L874.3,642.5 L876.1,641.8 L877.9,643.7 L879.6,645.4 L881.4,645.8 L883.2,646.6 L885,647.2 L886.8,648.4 L889.5,653.8 L892.1,658.2 L893.9,656.2 L895.7,653.8 L897.5,654.6 L899.3,656.4 L902.5,654.3 L904.5,655.5 L906.4,657.3 L908.7,659.2 L910.9,660.9 L912.7,658.3 L914.5,655 L916.2,655.8 L918,656.4 L920.7,655.5 L923.4,658.2 L925.2,654.4 L927,651.1 L928.8,651.7 L930.5,651.4 L933.2,645.7 L935,644.9 L936.8,644.8 L939.5,647.1 L942.1,648.4 L943.9,644.3 L945.7,641.2 L948.4,642.5 L951.1,641.2 L953.8,637.7 L955.5,635.9 L957.3,634.6 L959.1,636.5 L960.9,638.6 L963.6,637.7 L966.2,638.6 L968,644.8 L969.8,645.7 L971.6,647.5 L973.4,645.2 L975.2,643.6 L977.9,651.4 L979.6,651.4 L980.5,672.5 L983.2,671.6 L985.9,664.5 L988.6,665.4 L990.7,660.4 L993.9,665.7 L995.7,662.7 L997.5,660 L999.7,658.3 L1002,656.4 L1004.6,659.1 L1006.4,659.6 L1008.2,660.9 L1011.4,657.3 L1013.6,659.1 L1015.4,655.8 L1017.1,652.9 L1018.9,652 L1019.8,645.7 L1021.6,644.8 L1023.4,643 L1026.1,637.7 L1028.8,647 L1031.4,639.5 L1033.2,639.7 L1035,638.9 L1037.7,643 L1040.4,645.4 L1043,640.4 L1046.1,636.4 L1049.3,638.6 L1050,638.6 L1052.7,638.2 L1055.4,641.2 L1057.6,641.4 L1059.8,641.2 L1062.9,639.5 L1064.9,641.9 L1067,643.9 L1069.2,643.3 L1071.4,642.5 L1073.7,641.7 L1075.9,641.8 L1078.1,641.6 L1080.4,642.5 L1082.6,642.5 L1084.8,643.6 L1086.6,642.4 L1088.4,640.4 L1090.7,638.6 L1092,629.6 L1095,625.2 L1098.2,627.5 L1100,626.1 L1101.8,624.3 L1104.5,626.4 L1106.2,624.3 L1108,621.1 L1109.8,622.1 L1111.6,624.3 L1113.4,625.2 L1115.2,625.7 L1117,627.9 L1118.8,625.2 L1120.5,622.5 L1122.3,635 L1125,635.9 L1126.8,635.5 L1128.6,634.6 L1130.4,632.4 L1132.1,630.5 L1135.4,629.6 L1137.9,635 L1140.2,631.4 L1142,632.2 L1143.8,631.8 L1145.5,632 L1147.3,633.2 L1150,631.4 L1153.2,626.1 L1155.2,626.6 L1157.1,627 L1159.3,624.3 L1160.7,617.1 L1162.5,615.7 L1164.3,613.6 L1167,611.8 L1169.6,610.9 L1171.8,609.6 L1173.2,597.5 L1175,600.2 L1178.2,593 L1181.2,593.9 L1182.5,583.2 L1184.8,577 L1187.5,575.2 L1188.9,572.5 L1191.1,586.4 L1192.9,568.6 L1194.6,570.3 L1196.4,570.7 L1199.1,572.1 L1202.1,578.8 L1204.5,572.5 L1205,570.5 L1207.4,544.3 L1209.3,538.3 L1211.2,543.1 L1213.6,537.1 L1215.2,520.5 L1217.6,508.6 L1218.8,501.4 L1220.7,475.2 L1222.4,480 L1223.6,458.6 L1225.2,416.9 L1226.7,430 L1228.3,465.7 L1230.2,428.8 L1231.9,451.4 L1233.6,446.7 L1235.5,453.8 L1236.2,488.3 L1238.3,475.2 L1240.2,490.7 L1242.1,464.5 L1243.8,470.5 L1245.5,441.9 L1247.9,434.8 L1249.8,427.6 L1250.7,403.8 L1251,376.2 L1252.6,366.7 L1254.5,364.3 L1255.7,358.3 L1257.4,335.7 L1258.8,309.5 L1260.5,296.4 L1261.7,314.3 L1262.9,347.6 L1264,366.7 L1266.4,384.5 L1267.6,354.8 L1269.3,347.6 L1270.7,361.9 L1272.4,340.5 L1274,314.3 L1275.5,295.2 L1277.1,270.2 L1278.8,307.1 L1280.2,288.1 L1281.9,292.9 L1283.6,300 L1285.5,323.8 L1286.7,338.1 L1288.3,311.9 L1290.2,290.5 L1292.1,285.7 L1293.8,283.3 L1295,290.5 L1296.9,285.7 L1297.9,307.1 L1299.3,285.7 L1301,276.2 L1302.6,254.3 L1304.5,258.3 L1305.7,278.6 L1307.4,304.8 L1308.8,311.9 L1310.5,338.1 L1311.7,357.1 L1312.9,328.6 L1314,314.3 L1315.2,323.8 L1316.4,295.2 L1318.1,302.4 L1319.3,326.2 L1320.7,297.6 L1322.9,287.6 L1324.8,307.1 L1326,300 L1327.1,352.4 L1328.3,354.8 L1329.5,376.2 L1330.2,403.8 L1331.9,418.1 L1333.1,432.4 L1334.8,459.8 L1336.7,427.6 L1337.9,439.5 L1339.8,461 L1341.4,444.3 L1343.8,427.6 L1345.5,451.4 L1347.4,469.3 L1349.3,441.9 L1351,451.4 L1352.9,419.3 L1355,441.9 L1356.9,456.2 L1358.1,482.4 L1360.5,461 L1361.7,482.4 L1364.5,451.4 L1366.4,468.1 L1368.8,456.2 L1371.2,472.9 L1374,463.3 L1377.1,475.2 L1379.5,483.6 L1381.9,495.5 L1384.3,470.5 L1386.7,439.5 L1387.9,422.9 L1388.9,406.9 L1391.2,412.7 L1393.6,417.4 L1395.7,393.8 L1397.5,378.1 L1399.3,388.6 L1401.4,366.3 L1403.5,388.6 L1405.4,372.9 L1406.7,355.8 L1409.3,354.5 L1411.4,371.5 L1413.2,357.1 L1415,371.5 L1417.1,357.1 L1418.5,351.9 L1420.5,332.3 L1422.4,372.9 L1424.2,386 L1426.3,380.7 L1428.1,365 L1430.8,363.7 L1432.3,404.3 L1434.2,387.3 L1435.5,406.9 L1437.6,414.8 L1439.4,399 L1440.7,365 L1442.5,362.4 L1444.1,325.7 L1445.2,312.6 L1446.5,320.5 L1448.6,298.2 L1449.9,307.4 L1451.2,269.4 L1453.3,266.8 L1455.9,236.7 L1457.2,273.3 L1459,257.6 L1460.4,266.8 L1462.2,289 L1463.8,265.5 L1465.9,270.7 L1467.4,256.3 L1469.5,269.4 L1471.6,224.9 L1473.5,248.5 L1474.8,243.2 L1476.6,240.6 L1478.2,268.1 L1480,281.2 L1482.1,289 L1483.1,302.1 L1484.7,296.9 L1486.5,324.4 L1488.4,298.2 L1490,295.6 L1491.8,315.2 L1493.1,354.5 L1494.7,349.3 L1495.7,342.7 L1495.7,709.0 L89.8,709.0 Z" fill="url(#gf)"/>
    <clipPath id="fc"><path d="M89.8,700.2 L92,699.7 L94.2,699.3 L96.9,701.6 L99.6,701.1 L102.3,702.3 L104.1,702.1 L105.9,702 L107.6,701.4 L109.4,701.1 L111.2,700.9 L113,700.7 L114.8,700.2 L116.6,700.2 L118.4,700.1 L120.1,700.2 L121.9,700.3 L123.7,700 L125.5,699.4 L127.3,699.3 L129.1,698.9 L130.9,698.9 L132.6,698.6 L134.4,697.9 L136.2,697.1 L138.4,695.9 L140.7,695.4 L142.9,696.1 L145.1,696.1 L147.2,695 L149.3,693.3 L151.4,691.8 L154.1,693.9 L155.9,692.9 L157.6,691.8 L159.4,689.9 L161.2,688.6 L163,687.7 L164.8,687.7 L167,689.5 L169.2,691.2 L171,690.1 L172.8,689.4 L174.6,688.9 L176.4,689.7 L178.2,690.9 L180,690.2 L181.8,690.2 L183.5,689.9 L185.3,689.6 L187.1,690.6 L188.9,691 L190.7,691.6 L192.5,693.1 L194.2,694.3 L197.3,688.6 L200.5,689.8 L202.3,689.2 L204.1,688.6 L207.3,688.9 L209.2,686.9 L211.2,684.6 L213.9,683.6 L216.1,680.5 L218.4,677.5 L221,678.2 L223.7,680 L226.4,677.1 L229.1,676.6 L232.3,673.6 L234.4,677.9 L237.1,676.1 L239.8,678.2 L241.6,679.3 L242.8,685.9 L245.1,680 L246.9,681 L248.7,682.3 L251.4,681.8 L254.1,678.4 L255.9,678.1 L257.6,677 L260.3,678.2 L262.6,676.2 L264.8,673.4 L266.6,667.5 L269.2,668.6 L271,667.5 L272.8,665.7 L275.1,669.3 L277.3,666.8 L279.4,667.1 L282.6,659.6 L285.3,655.5 L287.6,656.4 L290.7,666.2 L293.4,652.9 L295.1,652 L296.9,650.7 L298.7,649.8 L300.5,649.3 L303.2,637.7 L305,635 L306.8,629.6 L309.4,623.4 L310.9,580.5 L312.6,600.2 L314.8,585 L316.6,591.2 L318.4,568.9 L320.1,573.4 L322.8,609.1 L325.5,608.2 L326.9,593 L328.2,601.1 L330,616.2 L330,615.4 L332.7,601.1 L335,582.9 L337.1,601.1 L338.9,603.8 L340.4,612.7 L341.6,606.4 L342.9,613.6 L343.9,627.9 L346.1,617.1 L347.9,630.5 L350.5,628.8 L352.9,624.3 L355,636.8 L357.7,645.7 L359.5,659.1 L361.2,650.2 L363.9,647.5 L366.6,642.1 L368.9,629.6 L371.4,627.5 L373.8,636.8 L375.5,639.5 L377.9,631.4 L379.8,628.4 L381.8,626.1 L384.5,640.4 L387.1,643 L388.9,645.7 L391.6,651.4 L393.4,647.9 L395.2,644.8 L397.9,645.7 L399.6,649.3 L401.4,653.8 L403.2,659.1 L405.9,655.5 L408.6,660.9 L411.2,659.6 L413,652 L415.7,650.2 L417.5,651.1 L420.2,645.7 L422.5,639.5 L424.6,643.6 L426.4,643 L428.2,641.8 L430,639.9 L431.8,638.2 L434.5,642.1 L437.1,647.5 L439.8,647.5 L441.6,650.2 L444.3,647.5 L447,654.1 L448.8,656.1 L450.5,657.3 L453.2,654.6 L455.4,654.1 L457.7,653.8 L460.4,654.6 L463,662.7 L465.7,661.8 L468.4,660.4 L471.1,664.5 L473.3,665.8 L475.5,666.2 L478.2,662.7 L480.4,661.5 L482.7,659.6 L485.4,661.8 L488,664.5 L490.7,656.4 L493.4,655.5 L496.4,648.4 L499.6,650.2 L502.3,651.1 L504.1,654.1 L505.9,658.2 L507.7,660.8 L509.5,663.9 L511.2,664.6 L513,664.5 L514.8,663.3 L516.6,662.1 L519.3,663.2 L521.1,662.1 L522.9,660 L524.6,658.6 L526.4,657.3 L528.7,656.3 L530.9,656.1 L533.6,663.6 L535.8,663 L538,662.1 L539.8,663.1 L541.6,663.6 L543.4,661.7 L545.2,660.4 L547.9,662.1 L550.1,661.6 L552.3,661.8 L554.1,661.5 L555.9,662 L557.7,661.4 L559.5,663 L561.2,664.1 L563.9,661.8 L565.9,661.8 L567.9,662.3 L569.8,662.9 L570,662.1 L571.8,661.9 L573.6,662.1 L575.4,662.7 L578,663.2 L580.3,662.8 L582.5,661.8 L584.7,661.9 L587,662.7 L588.8,667.1 L591.4,668.9 L593.2,676.1 L595,678.6 L596.8,681.1 L598.6,679.6 L600.4,678.2 L603,679.6 L605.3,681.3 L607.5,683.6 L610.2,683.2 L612,684.5 L613.8,685.4 L615.5,681.7 L617.3,678.8 L620,680 L622.7,682.3 L624.9,681.8 L627.1,681.1 L629.4,680 L631.6,679.6 L633.8,681.2 L636.1,682.9 L637.9,682.4 L639.6,682.3 L641.4,682.3 L643.2,683 L645,683.2 L646.8,683.1 L648.6,683.6 L650.4,683.9 L652.1,683.3 L653.9,683.6 L655.7,682.9 L657.5,682.3 L659.6,682.6 L661.7,682.4 L663.8,682.3 L665.5,680.6 L667.3,679.6 L670,679.3 L671.8,680.8 L673.6,681.4 L675.4,681 L677.1,680.8 L678.9,681 L680.7,680.5 L682.5,680.1 L684.3,679.7 L686.1,679.2 L687.9,679.3 L689.6,679 L691.4,679.5 L693.2,679.3 L695,679.6 L697.2,679 L699.5,678.2 L700.4,673.4 L702.1,672.4 L703.9,671.6 L705.7,670.7 L707.5,672 L709.3,672.5 L711.1,671.8 L712.9,671.1 L714.5,670.4 L716.2,670 L717.9,668.9 L720,671.1 L722.7,670.7 L724.5,668.6 L726.2,667.1 L728,666.4 L729.8,666.2 L732.5,660 L734.6,651.1 L737,654.6 L738.8,650.2 L741.4,652.9 L743.2,649.7 L745,645.7 L746.8,646.9 L748.6,647.5 L750.4,646.6 L752.1,652.9 L754.4,652.4 L756.6,652.5 L759.3,648.4 L761.1,645.4 L762.9,643 L764.6,641.2 L766.4,635 L768.2,630.5 L769.6,615.4 L770.9,624.3 L771.8,619.8 L773.6,632.3 L775.4,624.3 L777.1,627 L780.4,618 L782.5,626.1 L784.3,630.5 L786.1,641.2 L787.9,633.2 L789.6,631.4 L792.3,638.6 L794.1,640.2 L795.9,641.2 L798.6,635 L800.4,630.2 L802.1,624.3 L804.8,622.9 L807.5,627 L809.3,636.8 L811.1,635 L813.2,630 L814.6,635.9 L816.4,635.1 L818.2,635 L818.9,634.6 L822.1,640.4 L823.9,637.1 L825.7,632.9 L827.7,633.9 L829.6,634.1 L831.8,635.9 L835,634.1 L837.1,635 L839.2,635.6 L841.2,636.4 L843,647.5 L844.8,650.2 L846.6,648.9 L848.4,648.4 L850.2,649.2 L852,651.1 L853.8,649.8 L855.5,647.5 L857.3,648.1 L859.1,649.3 L860.9,650.6 L862.7,651.4 L865.4,650.2 L866.8,654.6 L868.9,641.2 L870.7,641.6 L872.5,642.5 L874.3,642.5 L876.1,641.8 L877.9,643.7 L879.6,645.4 L881.4,645.8 L883.2,646.6 L885,647.2 L886.8,648.4 L889.5,653.8 L892.1,658.2 L893.9,656.2 L895.7,653.8 L897.5,654.6 L899.3,656.4 L902.5,654.3 L904.5,655.5 L906.4,657.3 L908.7,659.2 L910.9,660.9 L912.7,658.3 L914.5,655 L916.2,655.8 L918,656.4 L920.7,655.5 L923.4,658.2 L925.2,654.4 L927,651.1 L928.8,651.7 L930.5,651.4 L933.2,645.7 L935,644.9 L936.8,644.8 L939.5,647.1 L942.1,648.4 L943.9,644.3 L945.7,641.2 L948.4,642.5 L951.1,641.2 L953.8,637.7 L955.5,635.9 L957.3,634.6 L959.1,636.5 L960.9,638.6 L963.6,637.7 L966.2,638.6 L968,644.8 L969.8,645.7 L971.6,647.5 L973.4,645.2 L975.2,643.6 L977.9,651.4 L979.6,651.4 L980.5,672.5 L983.2,671.6 L985.9,664.5 L988.6,665.4 L990.7,660.4 L993.9,665.7 L995.7,662.7 L997.5,660 L999.7,658.3 L1002,656.4 L1004.6,659.1 L1006.4,659.6 L1008.2,660.9 L1011.4,657.3 L1013.6,659.1 L1015.4,655.8 L1017.1,652.9 L1018.9,652 L1019.8,645.7 L1021.6,644.8 L1023.4,643 L1026.1,637.7 L1028.8,647 L1031.4,639.5 L1033.2,639.7 L1035,638.9 L1037.7,643 L1040.4,645.4 L1043,640.4 L1046.1,636.4 L1049.3,638.6 L1050,638.6 L1052.7,638.2 L1055.4,641.2 L1057.6,641.4 L1059.8,641.2 L1062.9,639.5 L1064.9,641.9 L1067,643.9 L1069.2,643.3 L1071.4,642.5 L1073.7,641.7 L1075.9,641.8 L1078.1,641.6 L1080.4,642.5 L1082.6,642.5 L1084.8,643.6 L1086.6,642.4 L1088.4,640.4 L1090.7,638.6 L1092,629.6 L1095,625.2 L1098.2,627.5 L1100,626.1 L1101.8,624.3 L1104.5,626.4 L1106.2,624.3 L1108,621.1 L1109.8,622.1 L1111.6,624.3 L1113.4,625.2 L1115.2,625.7 L1117,627.9 L1118.8,625.2 L1120.5,622.5 L1122.3,635 L1125,635.9 L1126.8,635.5 L1128.6,634.6 L1130.4,632.4 L1132.1,630.5 L1135.4,629.6 L1137.9,635 L1140.2,631.4 L1142,632.2 L1143.8,631.8 L1145.5,632 L1147.3,633.2 L1150,631.4 L1153.2,626.1 L1155.2,626.6 L1157.1,627 L1159.3,624.3 L1160.7,617.1 L1162.5,615.7 L1164.3,613.6 L1167,611.8 L1169.6,610.9 L1171.8,609.6 L1173.2,597.5 L1175,600.2 L1178.2,593 L1181.2,593.9 L1182.5,583.2 L1184.8,577 L1187.5,575.2 L1188.9,572.5 L1191.1,586.4 L1192.9,568.6 L1194.6,570.3 L1196.4,570.7 L1199.1,572.1 L1202.1,578.8 L1204.5,572.5 L1205,570.5 L1207.4,544.3 L1209.3,538.3 L1211.2,543.1 L1213.6,537.1 L1215.2,520.5 L1217.6,508.6 L1218.8,501.4 L1220.7,475.2 L1222.4,480 L1223.6,458.6 L1225.2,416.9 L1226.7,430 L1228.3,465.7 L1230.2,428.8 L1231.9,451.4 L1233.6,446.7 L1235.5,453.8 L1236.2,488.3 L1238.3,475.2 L1240.2,490.7 L1242.1,464.5 L1243.8,470.5 L1245.5,441.9 L1247.9,434.8 L1249.8,427.6 L1250.7,403.8 L1251,376.2 L1252.6,366.7 L1254.5,364.3 L1255.7,358.3 L1257.4,335.7 L1258.8,309.5 L1260.5,296.4 L1261.7,314.3 L1262.9,347.6 L1264,366.7 L1266.4,384.5 L1267.6,354.8 L1269.3,347.6 L1270.7,361.9 L1272.4,340.5 L1274,314.3 L1275.5,295.2 L1277.1,270.2 L1278.8,307.1 L1280.2,288.1 L1281.9,292.9 L1283.6,300 L1285.5,323.8 L1286.7,338.1 L1288.3,311.9 L1290.2,290.5 L1292.1,285.7 L1293.8,283.3 L1295,290.5 L1296.9,285.7 L1297.9,307.1 L1299.3,285.7 L1301,276.2 L1302.6,254.3 L1304.5,258.3 L1305.7,278.6 L1307.4,304.8 L1308.8,311.9 L1310.5,338.1 L1311.7,357.1 L1312.9,328.6 L1314,314.3 L1315.2,323.8 L1316.4,295.2 L1318.1,302.4 L1319.3,326.2 L1320.7,297.6 L1322.9,287.6 L1324.8,307.1 L1326,300 L1327.1,352.4 L1328.3,354.8 L1329.5,376.2 L1330.2,403.8 L1331.9,418.1 L1333.1,432.4 L1334.8,459.8 L1336.7,427.6 L1337.9,439.5 L1339.8,461 L1341.4,444.3 L1343.8,427.6 L1345.5,451.4 L1347.4,469.3 L1349.3,441.9 L1351,451.4 L1352.9,419.3 L1355,441.9 L1356.9,456.2 L1358.1,482.4 L1360.5,461 L1361.7,482.4 L1364.5,451.4 L1366.4,468.1 L1368.8,456.2 L1371.2,472.9 L1374,463.3 L1377.1,475.2 L1379.5,483.6 L1381.9,495.5 L1384.3,470.5 L1386.7,439.5 L1387.9,422.9 L1388.9,406.9 L1391.2,412.7 L1393.6,417.4 L1395.7,393.8 L1397.5,378.1 L1399.3,388.6 L1401.4,366.3 L1403.5,388.6 L1405.4,372.9 L1406.7,355.8 L1409.3,354.5 L1411.4,371.5 L1413.2,357.1 L1415,371.5 L1417.1,357.1 L1418.5,351.9 L1420.5,332.3 L1422.4,372.9 L1424.2,386 L1426.3,380.7 L1428.1,365 L1430.8,363.7 L1432.3,404.3 L1434.2,387.3 L1435.5,406.9 L1437.6,414.8 L1439.4,399 L1440.7,365 L1442.5,362.4 L1444.1,325.7 L1445.2,312.6 L1446.5,320.5 L1448.6,298.2 L1449.9,307.4 L1451.2,269.4 L1453.3,266.8 L1455.9,236.7 L1457.2,273.3 L1459,257.6 L1460.4,266.8 L1462.2,289 L1463.8,265.5 L1465.9,270.7 L1467.4,256.3 L1469.5,269.4 L1471.6,224.9 L1473.5,248.5 L1474.8,243.2 L1476.6,240.6 L1478.2,268.1 L1480,281.2 L1482.1,289 L1483.1,302.1 L1484.7,296.9 L1486.5,324.4 L1488.4,298.2 L1490,295.6 L1491.8,315.2 L1493.1,354.5 L1494.7,349.3 L1495.7,342.7 L1495.7,709.0 L89.8,709.0 Z"/></clipPath>
    <g clip-path="url(#fc)" stroke="#d4d8e7" stroke-width="1" stroke-dasharray="1 3"><line x1="90" x2="1498" y1="566.2" y2="566.2"/><line x1="90" x2="1498" y1="637.4" y2="637.4"/></g>
    <!-- watermark -->
    <g fill="none" stroke="#d0d4e3" stroke-linecap="round" stroke-linejoin="round">
      <path d="M1289.0,635.0 A17 17 0 1 1 1293.9,626.2" stroke-width="3.3"/>
      <path d="M1264.4,630.4 L1274.4,616.4 L1276.2,628.6 L1284.8,617.4 L1287.0,626.6 Q1288.2,629.2 1291.0,628.6 L1293.9,626.2" stroke-width="3.3"/>
    </g>
    <text x="1309" y="632.8" font-size="24.5" font-weight="400" fill="#d0d4e3" stroke="#d0d4e3" stroke-width="0.75" font-family="'Liberation Sans', Arial, sans-serif" textLength="173" lengthAdjust="spacingAndGlyphs">CoinMarketCap</text>
    <path d="M89.8,700.2 L92,699.7 L94.2,699.3 L96.9,701.6 L99.6,701.1 L102.3,702.3 L104.1,702.1 L105.9,702 L107.6,701.4 L109.4,701.1 L111.2,700.9 L113,700.7 L114.8,700.2 L116.6,700.2 L118.4,700.1 L120.1,700.2 L121.9,700.3 L123.7,700 L125.5,699.4 L127.3,699.3 L129.1,698.9 L130.9,698.9 L132.6,698.6 L134.4,697.9 L136.2,697.1 L138.4,695.9 L140.7,695.4 L142.9,696.1 L145.1,696.1 L147.2,695 L149.3,693.3 L151.4,691.8 L154.1,693.9 L155.9,692.9 L157.6,691.8 L159.4,689.9 L161.2,688.6 L163,687.7 L164.8,687.7 L167,689.5 L169.2,691.2 L171,690.1 L172.8,689.4 L174.6,688.9 L176.4,689.7 L178.2,690.9 L180,690.2 L181.8,690.2 L183.5,689.9 L185.3,689.6 L187.1,690.6 L188.9,691 L190.7,691.6 L192.5,693.1 L194.2,694.3 L197.3,688.6 L200.5,689.8 L202.3,689.2 L204.1,688.6 L207.3,688.9 L209.2,686.9 L211.2,684.6 L213.9,683.6 L216.1,680.5 L218.4,677.5 L221,678.2 L223.7,680 L226.4,677.1 L229.1,676.6 L232.3,673.6 L234.4,677.9 L237.1,676.1 L239.8,678.2 L241.6,679.3 L242.8,685.9 L245.1,680 L246.9,681 L248.7,682.3 L251.4,681.8 L254.1,678.4 L255.9,678.1 L257.6,677 L260.3,678.2 L262.6,676.2 L264.8,673.4 L266.6,667.5 L269.2,668.6 L271,667.5 L272.8,665.7 L275.1,669.3 L277.3,666.8 L279.4,667.1 L282.6,659.6 L285.3,655.5 L287.6,656.4 L290.7,666.2 L293.4,652.9 L295.1,652 L296.9,650.7 L298.7,649.8 L300.5,649.3 L303.2,637.7 L305,635 L306.8,629.6 L309.4,623.4 L310.9,580.5 L312.6,600.2 L314.8,585 L316.6,591.2 L318.4,568.9 L320.1,573.4 L322.8,609.1 L325.5,608.2 L326.9,593 L328.2,601.1 L330,616.2 L330,615.4 L332.7,601.1 L335,582.9 L337.1,601.1 L338.9,603.8 L340.4,612.7 L341.6,606.4 L342.9,613.6 L343.9,627.9 L346.1,617.1 L347.9,630.5 L350.5,628.8 L352.9,624.3 L355,636.8 L357.7,645.7 L359.5,659.1 L361.2,650.2 L363.9,647.5 L366.6,642.1 L368.9,629.6 L371.4,627.5 L373.8,636.8 L375.5,639.5 L377.9,631.4 L379.8,628.4 L381.8,626.1 L384.5,640.4 L387.1,643 L388.9,645.7 L391.6,651.4 L393.4,647.9 L395.2,644.8 L397.9,645.7 L399.6,649.3 L401.4,653.8 L403.2,659.1 L405.9,655.5 L408.6,660.9 L411.2,659.6 L413,652 L415.7,650.2 L417.5,651.1 L420.2,645.7 L422.5,639.5 L424.6,643.6 L426.4,643 L428.2,641.8 L430,639.9 L431.8,638.2 L434.5,642.1 L437.1,647.5 L439.8,647.5 L441.6,650.2 L444.3,647.5 L447,654.1 L448.8,656.1 L450.5,657.3 L453.2,654.6 L455.4,654.1 L457.7,653.8 L460.4,654.6 L463,662.7 L465.7,661.8 L468.4,660.4 L471.1,664.5 L473.3,665.8 L475.5,666.2 L478.2,662.7 L480.4,661.5 L482.7,659.6 L485.4,661.8 L488,664.5 L490.7,656.4 L493.4,655.5 L496.4,648.4 L499.6,650.2 L502.3,651.1 L504.1,654.1 L505.9,658.2 L507.7,660.8 L509.5,663.9 L511.2,664.6 L513,664.5 L514.8,663.3 L516.6,662.1 L519.3,663.2 L521.1,662.1 L522.9,660 L524.6,658.6 L526.4,657.3 L528.7,656.3 L530.9,656.1 L533.6,663.6 L535.8,663 L538,662.1 L539.8,663.1 L541.6,663.6 L543.4,661.7 L545.2,660.4 L547.9,662.1 L550.1,661.6 L552.3,661.8 L554.1,661.5 L555.9,662 L557.7,661.4 L559.5,663 L561.2,664.1 L563.9,661.8 L565.9,661.8 L567.9,662.3 L569.8,662.9 L570,662.1 L571.8,661.9 L573.6,662.1 L575.4,662.7 L578,663.2 L580.3,662.8 L582.5,661.8 L584.7,661.9 L587,662.7 L588.8,667.1 L591.4,668.9 L593.2,676.1 L595,678.6 L596.8,681.1 L598.6,679.6 L600.4,678.2 L603,679.6 L605.3,681.3 L607.5,683.6 L610.2,683.2 L612,684.5 L613.8,685.4 L615.5,681.7 L617.3,678.8 L620,680 L622.7,682.3 L624.9,681.8 L627.1,681.1 L629.4,680 L631.6,679.6 L633.8,681.2 L636.1,682.9 L637.9,682.4 L639.6,682.3 L641.4,682.3 L643.2,683 L645,683.2 L646.8,683.1 L648.6,683.6 L650.4,683.9 L652.1,683.3 L653.9,683.6 L655.7,682.9 L657.5,682.3 L659.6,682.6 L661.7,682.4 L663.8,682.3 L665.5,680.6 L667.3,679.6 L670,679.3 L671.8,680.8 L673.6,681.4 L675.4,681 L677.1,680.8 L678.9,681 L680.7,680.5 L682.5,680.1 L684.3,679.7 L686.1,679.2 L687.9,679.3 L689.6,679 L691.4,679.5 L693.2,679.3 L695,679.6 L697.2,679 L699.5,678.2 L700.4,673.4 L702.1,672.4 L703.9,671.6 L705.7,670.7 L707.5,672 L709.3,672.5 L711.1,671.8 L712.9,671.1 L714.5,670.4 L716.2,670 L717.9,668.9 L720,671.1 L722.7,670.7 L724.5,668.6 L726.2,667.1 L728,666.4 L729.8,666.2 L732.5,660 L734.6,651.1 L737,654.6 L738.8,650.2 L741.4,652.9 L743.2,649.7 L745,645.7 L746.8,646.9 L748.6,647.5 L750.4,646.6 L752.1,652.9 L754.4,652.4 L756.6,652.5 L759.3,648.4 L761.1,645.4 L762.9,643 L764.6,641.2 L766.4,635 L768.2,630.5 L769.6,615.4 L770.9,624.3 L771.8,619.8 L773.6,632.3 L775.4,624.3 L777.1,627 L780.4,618 L782.5,626.1 L784.3,630.5 L786.1,641.2 L787.9,633.2 L789.6,631.4 L792.3,638.6 L794.1,640.2 L795.9,641.2 L798.6,635 L800.4,630.2 L802.1,624.3 L804.8,622.9 L807.5,627 L809.3,636.8 L811.1,635 L813.2,630 L814.6,635.9 L816.4,635.1 L818.2,635 L818.9,634.6 L822.1,640.4 L823.9,637.1 L825.7,632.9 L827.7,633.9 L829.6,634.1 L831.8,635.9 L835,634.1 L837.1,635 L839.2,635.6 L841.2,636.4 L843,647.5 L844.8,650.2 L846.6,648.9 L848.4,648.4 L850.2,649.2 L852,651.1 L853.8,649.8 L855.5,647.5 L857.3,648.1 L859.1,649.3 L860.9,650.6 L862.7,651.4 L865.4,650.2 L866.8,654.6 L868.9,641.2 L870.7,641.6 L872.5,642.5 L874.3,642.5 L876.1,641.8 L877.9,643.7 L879.6,645.4 L881.4,645.8 L883.2,646.6 L885,647.2 L886.8,648.4 L889.5,653.8 L892.1,658.2 L893.9,656.2 L895.7,653.8 L897.5,654.6 L899.3,656.4 L902.5,654.3 L904.5,655.5 L906.4,657.3 L908.7,659.2 L910.9,660.9 L912.7,658.3 L914.5,655 L916.2,655.8 L918,656.4 L920.7,655.5 L923.4,658.2 L925.2,654.4 L927,651.1 L928.8,651.7 L930.5,651.4 L933.2,645.7 L935,644.9 L936.8,644.8 L939.5,647.1 L942.1,648.4 L943.9,644.3 L945.7,641.2 L948.4,642.5 L951.1,641.2 L953.8,637.7 L955.5,635.9 L957.3,634.6 L959.1,636.5 L960.9,638.6 L963.6,637.7 L966.2,638.6 L968,644.8 L969.8,645.7 L971.6,647.5 L973.4,645.2 L975.2,643.6 L977.9,651.4 L979.6,651.4 L980.5,672.5 L983.2,671.6 L985.9,664.5 L988.6,665.4 L990.7,660.4 L993.9,665.7 L995.7,662.7 L997.5,660 L999.7,658.3 L1002,656.4 L1004.6,659.1 L1006.4,659.6 L1008.2,660.9 L1011.4,657.3 L1013.6,659.1 L1015.4,655.8 L1017.1,652.9 L1018.9,652 L1019.8,645.7 L1021.6,644.8 L1023.4,643 L1026.1,637.7 L1028.8,647 L1031.4,639.5 L1033.2,639.7 L1035,638.9 L1037.7,643 L1040.4,645.4 L1043,640.4 L1046.1,636.4 L1049.3,638.6 L1050,638.6 L1052.7,638.2 L1055.4,641.2 L1057.6,641.4 L1059.8,641.2 L1062.9,639.5 L1064.9,641.9 L1067,643.9 L1069.2,643.3 L1071.4,642.5 L1073.7,641.7 L1075.9,641.8 L1078.1,641.6 L1080.4,642.5 L1082.6,642.5 L1084.8,643.6 L1086.6,642.4 L1088.4,640.4 L1090.7,638.6 L1092,629.6 L1095,625.2 L1098.2,627.5 L1100,626.1 L1101.8,624.3 L1104.5,626.4 L1106.2,624.3 L1108,621.1 L1109.8,622.1 L1111.6,624.3 L1113.4,625.2 L1115.2,625.7 L1117,627.9 L1118.8,625.2 L1120.5,622.5 L1122.3,635 L1125,635.9 L1126.8,635.5 L1128.6,634.6 L1130.4,632.4 L1132.1,630.5 L1135.4,629.6 L1137.9,635 L1140.2,631.4 L1142,632.2 L1143.8,631.8 L1145.5,632 L1147.3,633.2 L1150,631.4 L1153.2,626.1 L1155.2,626.6 L1157.1,627 L1159.3,624.3 L1160.7,617.1 L1162.5,615.7 L1164.3,613.6 L1167,611.8 L1169.6,610.9 L1171.8,609.6 L1173.2,597.5 L1175,600.2 L1178.2,593 L1181.2,593.9 L1182.5,583.2 L1184.8,577 L1187.5,575.2 L1188.9,572.5 L1191.1,586.4 L1192.9,568.6 L1194.6,570.3 L1196.4,570.7 L1199.1,572.1 L1202.1,578.8 L1204.5,572.5 L1205,570.5 L1207.4,544.3 L1209.3,538.3 L1211.2,543.1 L1213.6,537.1 L1215.2,520.5 L1217.6,508.6 L1218.8,501.4 L1220.7,475.2 L1222.4,480 L1223.6,458.6 L1225.2,416.9 L1226.7,430 L1228.3,465.7 L1230.2,428.8 L1231.9,451.4 L1233.6,446.7 L1235.5,453.8 L1236.2,488.3 L1238.3,475.2 L1240.2,490.7 L1242.1,464.5 L1243.8,470.5 L1245.5,441.9 L1247.9,434.8 L1249.8,427.6 L1250.7,403.8 L1251,376.2 L1252.6,366.7 L1254.5,364.3 L1255.7,358.3 L1257.4,335.7 L1258.8,309.5 L1260.5,296.4 L1261.7,314.3 L1262.9,347.6 L1264,366.7 L1266.4,384.5 L1267.6,354.8 L1269.3,347.6 L1270.7,361.9 L1272.4,340.5 L1274,314.3 L1275.5,295.2 L1277.1,270.2 L1278.8,307.1 L1280.2,288.1 L1281.9,292.9 L1283.6,300 L1285.5,323.8 L1286.7,338.1 L1288.3,311.9 L1290.2,290.5 L1292.1,285.7 L1293.8,283.3 L1295,290.5 L1296.9,285.7 L1297.9,307.1 L1299.3,285.7 L1301,276.2 L1302.6,254.3 L1304.5,258.3 L1305.7,278.6 L1307.4,304.8 L1308.8,311.9 L1310.5,338.1 L1311.7,357.1 L1312.9,328.6 L1314,314.3 L1315.2,323.8 L1316.4,295.2 L1318.1,302.4 L1319.3,326.2 L1320.7,297.6 L1322.9,287.6 L1324.8,307.1 L1326,300 L1327.1,352.4 L1328.3,354.8 L1329.5,376.2 L1330.2,403.8 L1331.9,418.1 L1333.1,432.4 L1334.8,459.8 L1336.7,427.6 L1337.9,439.5 L1339.8,461 L1341.4,444.3 L1343.8,427.6 L1345.5,451.4 L1347.4,469.3 L1349.3,441.9 L1351,451.4 L1352.9,419.3 L1355,441.9 L1356.9,456.2 L1358.1,482.4 L1360.5,461 L1361.7,482.4 L1364.5,451.4 L1366.4,468.1 L1368.8,456.2 L1371.2,472.9 L1374,463.3 L1377.1,475.2 L1379.5,483.6 L1381.9,495.5 L1384.3,470.5 L1386.7,439.5 L1387.9,422.9 L1388.9,406.9 L1391.2,412.7 L1393.6,417.4 L1395.7,393.8 L1397.5,378.1 L1399.3,388.6 L1401.4,366.3 L1403.5,388.6 L1405.4,372.9 L1406.7,355.8 L1409.3,354.5 L1411.4,371.5 L1413.2,357.1 L1415,371.5 L1417.1,357.1 L1418.5,351.9 L1420.5,332.3 L1422.4,372.9 L1424.2,386 L1426.3,380.7 L1428.1,365 L1430.8,363.7 L1432.3,404.3 L1434.2,387.3 L1435.5,406.9 L1437.6,414.8 L1439.4,399 L1440.7,365 L1442.5,362.4 L1444.1,325.7 L1445.2,312.6 L1446.5,320.5 L1448.6,298.2 L1449.9,307.4 L1451.2,269.4 L1453.3,266.8 L1455.9,236.7 L1457.2,273.3 L1459,257.6 L1460.4,266.8 L1462.2,289 L1463.8,265.5 L1465.9,270.7 L1467.4,256.3 L1469.5,269.4 L1471.6,224.9 L1473.5,248.5 L1474.8,243.2 L1476.6,240.6 L1478.2,268.1 L1480,281.2 L1482.1,289 L1483.1,302.1 L1484.7,296.9 L1486.5,324.4 L1488.4,298.2 L1490,295.6 L1491.8,315.2 L1493.1,354.5 L1494.7,349.3 L1495.7,342.7" fill="none" stroke="#16c784" stroke-width="3.6" stroke-linejoin="round" stroke-linecap="round"/>
    <line x1="90" x2="1497" y1="708.4" y2="708.4" stroke="#7b8194" stroke-width="1" stroke-dasharray="1 4"/>
    <rect x="33" y="693" width="57" height="29" fill="#8d93a5"/>
    <text x="61" y="712.8" font-size="18" fill="#fff" text-anchor="middle" font-family="'Liberation Sans', Arial, sans-serif">145</text>
    <g class="yl"><text x="76" y="214">70.0K</text><text x="76" y="286">60.0K</text><text x="76" y="357.9">50.0K</text><text x="76" y="429.7">40.0K</text><text x="76" y="501.2">30.0K</text><text x="76" y="572.9">20.0K</text><text x="76" y="644.1">10.0K</text></g>
    <g stroke="#8f96a8" stroke-width="1.2"><line x1="158.4" x2="158.4" y1="794" y2="799"/><line x1="331.6" x2="331.6" y1="794" y2="799"/><line x1="454.5" x2="454.5" y1="794" y2="799"/><line x1="627.4" x2="627.4" y1="794" y2="799"/><line x1="749.5" x2="749.5" y1="794" y2="799"/><line x1="923.4" x2="923.4" y1="794" y2="799"/><line x1="1046.6" x2="1046.6" y1="794" y2="799"/><line x1="1220.5" x2="1220.5" y1="794" y2="799"/><line x1="1342.4" x2="1342.4" y1="794" y2="799"/></g>
    <g class="xl"><text x="158.4" y="822.5" class="">Jun</text><text x="331.6" y="822.5" class="b">2018</text><text x="454.5" y="822.5" class="">Jun</text><text x="627.4" y="822.5" class="b">2019</text><text x="749.5" y="822.5" class="">Jun</text><text x="923.4" y="822.5" class="b">2020</text><text x="1046.6" y="822.5" class="">Jun</text><text x="1220.5" y="822.5" class="b">2021</text><text x="1342.4" y="822.5" class="">Jun</text></g>
    <text x="32" y="822.4" font-size="19.5" font-weight="700" fill="#8f96a8" font-family="'Liberation Sans', Arial, sans-serif">USD</text>
    <rect x="722" y="835" width="773" height="5" fill="#eff2f5"/>
    <g stroke="#e3e7ee" stroke-width="1"><line x1="201" x2="201" y1="835" y2="840"/><line x1="365.5" x2="365.5" y1="835" y2="840"/><line x1="529" x2="529" y1="835" y2="840"/><line x1="691" x2="691" y1="835" y2="840"/><line x1="855" x2="855" y1="835" y2="840"/><line x1="1018" x2="1018" y1="835" y2="840"/><line x1="1182" x2="1182" y1="835" y2="840"/><line x1="1346" x2="1346" y1="835" y2="840"/><line x1="1468" x2="1468" y1="835" y2="840"/></g>
  </svg>
</body>
</html>
